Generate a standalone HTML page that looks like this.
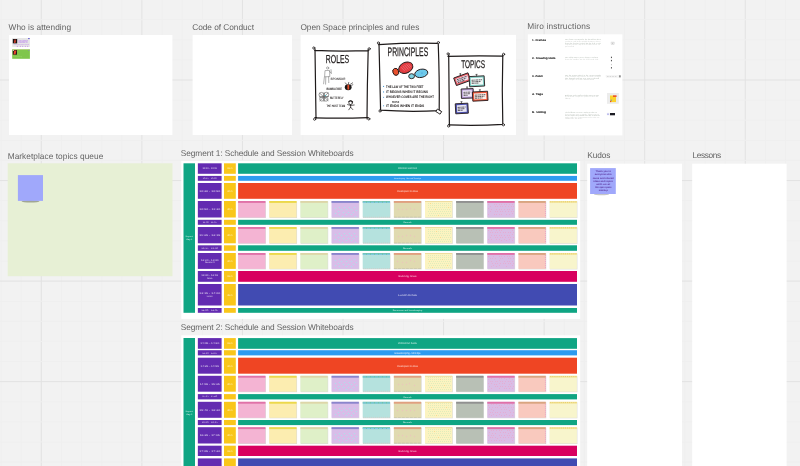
<!DOCTYPE html>
<html lang="en"><head><meta charset="utf-8"><title>Open Space board</title>
<style>html,body{margin:0;padding:0;background:#f2f2f2;overflow:hidden}body{width:800px;height:466px}svg{display:block;font-family:"Liberation Sans",sans-serif;text-rendering:geometricPrecision}</style>
</head><body>
<svg width="800" height="466" viewBox="0 0 800 466">
<defs><filter id="b1" x="-20%" y="-200%" width="140%" height="500%"><feGaussianBlur stdDeviation="0.7"/></filter></defs>
<rect x="0.00" y="0.00" width="800.00" height="466.00" fill="#f2f2f2"/>
<g id="grid">
<rect x="0.57" y="0" width="1" height="466" fill="#efefef"/>
<rect x="20.69" y="0" width="1" height="466" fill="#efefef"/>
<rect x="40.80" y="0" width="1" height="466" fill="#e2e2e2"/>
<rect x="60.91" y="0" width="1" height="466" fill="#efefef"/>
<rect x="81.03" y="0" width="1" height="466" fill="#efefef"/>
<rect x="101.14" y="0" width="1" height="466" fill="#efefef"/>
<rect x="121.26" y="0" width="1" height="466" fill="#efefef"/>
<rect x="141.37" y="0" width="1" height="466" fill="#e2e2e2"/>
<rect x="161.48" y="0" width="1" height="466" fill="#efefef"/>
<rect x="181.60" y="0" width="1" height="466" fill="#efefef"/>
<rect x="201.71" y="0" width="1" height="466" fill="#efefef"/>
<rect x="221.83" y="0" width="1" height="466" fill="#efefef"/>
<rect x="241.94" y="0" width="1" height="466" fill="#e2e2e2"/>
<rect x="262.05" y="0" width="1" height="466" fill="#efefef"/>
<rect x="282.17" y="0" width="1" height="466" fill="#efefef"/>
<rect x="302.28" y="0" width="1" height="466" fill="#efefef"/>
<rect x="322.40" y="0" width="1" height="466" fill="#efefef"/>
<rect x="342.51" y="0" width="1" height="466" fill="#e2e2e2"/>
<rect x="362.62" y="0" width="1" height="466" fill="#efefef"/>
<rect x="382.74" y="0" width="1" height="466" fill="#efefef"/>
<rect x="402.85" y="0" width="1" height="466" fill="#efefef"/>
<rect x="422.97" y="0" width="1" height="466" fill="#efefef"/>
<rect x="443.08" y="0" width="1" height="466" fill="#e2e2e2"/>
<rect x="463.19" y="0" width="1" height="466" fill="#efefef"/>
<rect x="483.31" y="0" width="1" height="466" fill="#efefef"/>
<rect x="503.42" y="0" width="1" height="466" fill="#efefef"/>
<rect x="523.54" y="0" width="1" height="466" fill="#efefef"/>
<rect x="543.65" y="0" width="1" height="466" fill="#e2e2e2"/>
<rect x="563.76" y="0" width="1" height="466" fill="#efefef"/>
<rect x="583.88" y="0" width="1" height="466" fill="#efefef"/>
<rect x="603.99" y="0" width="1" height="466" fill="#efefef"/>
<rect x="624.11" y="0" width="1" height="466" fill="#efefef"/>
<rect x="644.22" y="0" width="1" height="466" fill="#e2e2e2"/>
<rect x="664.33" y="0" width="1" height="466" fill="#efefef"/>
<rect x="684.45" y="0" width="1" height="466" fill="#efefef"/>
<rect x="704.56" y="0" width="1" height="466" fill="#efefef"/>
<rect x="724.68" y="0" width="1" height="466" fill="#efefef"/>
<rect x="744.79" y="0" width="1" height="466" fill="#e2e2e2"/>
<rect x="764.90" y="0" width="1" height="466" fill="#efefef"/>
<rect x="785.02" y="0" width="1" height="466" fill="#efefef"/>
<rect x="0" y="-0.94" width="800" height="1" fill="#efefef"/>
<rect x="0" y="19.17" width="800" height="1" fill="#efefef"/>
<rect x="0" y="39.28" width="800" height="1" fill="#efefef"/>
<rect x="0" y="59.39" width="800" height="1" fill="#efefef"/>
<rect x="0" y="79.50" width="800" height="1" fill="#e2e2e2"/>
<rect x="0" y="99.61" width="800" height="1" fill="#efefef"/>
<rect x="0" y="119.72" width="800" height="1" fill="#efefef"/>
<rect x="0" y="139.83" width="800" height="1" fill="#efefef"/>
<rect x="0" y="159.94" width="800" height="1" fill="#efefef"/>
<rect x="0" y="180.05" width="800" height="1" fill="#e2e2e2"/>
<rect x="0" y="200.16" width="800" height="1" fill="#efefef"/>
<rect x="0" y="220.27" width="800" height="1" fill="#efefef"/>
<rect x="0" y="240.38" width="800" height="1" fill="#efefef"/>
<rect x="0" y="260.49" width="800" height="1" fill="#efefef"/>
<rect x="0" y="280.60" width="800" height="1" fill="#e2e2e2"/>
<rect x="0" y="300.71" width="800" height="1" fill="#efefef"/>
<rect x="0" y="320.82" width="800" height="1" fill="#efefef"/>
<rect x="0" y="340.93" width="800" height="1" fill="#efefef"/>
<rect x="0" y="361.04" width="800" height="1" fill="#efefef"/>
<rect x="0" y="381.15" width="800" height="1" fill="#e2e2e2"/>
<rect x="0" y="401.26" width="800" height="1" fill="#efefef"/>
<rect x="0" y="421.37" width="800" height="1" fill="#efefef"/>
<rect x="0" y="441.48" width="800" height="1" fill="#efefef"/>
<rect x="0" y="461.59" width="800" height="1" fill="#efefef"/>
</g>
<g id="labels" fill="#646464" font-size="8.3">
<text x="8.50" y="29.80" textLength="62.50" lengthAdjust="spacing">Who is attending</text>
<text x="192.20" y="29.90" textLength="61.80" lengthAdjust="spacing">Code of Conduct</text>
<text x="300.40" y="29.70" textLength="118.90" lengthAdjust="spacing">Open Space principles and rules</text>
<text x="527.20" y="28.90" textLength="62.90" lengthAdjust="spacing">Miro instructions</text>
<text x="7.70" y="158.50" textLength="95.60" lengthAdjust="spacing">Marketplace topics queue</text>
<text x="180.80" y="155.60" textLength="172.90" lengthAdjust="spacing">Segment 1: Schedule and Session Whiteboards</text>
<text x="587.30" y="157.90" textLength="23.00" lengthAdjust="spacing">Kudos</text>
<text x="692.40" y="158.00" textLength="28.80" lengthAdjust="spacing">Lessons</text>
<text x="180.80" y="329.90" textLength="172.90" lengthAdjust="spacing">Segment 2: Schedule and Session Whiteboards</text>
</g>
<rect x="9.00" y="35.00" width="163.40" height="100.00" fill="#fff"/>
<rect x="192.60" y="35.00" width="99.40" height="100.00" fill="#fff"/>
<rect x="300.60" y="34.90" width="215.40" height="100.10" fill="#fff"/>
<rect x="527.80" y="34.30" width="94.60" height="101.10" fill="#fff"/>
<rect x="7.70" y="163.30" width="164.80" height="112.90" fill="#e7f0d5"/>
<rect x="181.30" y="160.90" width="398.90" height="158.00" fill="#fff"/>
<rect x="181.30" y="335.30" width="398.90" height="134.70" fill="#fff"/>
<rect x="587.20" y="163.70" width="94.80" height="306.30" fill="#fff"/>
<rect x="692.20" y="163.70" width="94.40" height="306.30" fill="#fff"/>
<rect x="12.20" y="38.00" width="17.70" height="8.90" fill="#e6e6e6"/>
<rect x="12.80" y="39.00" width="4.40" height="4.40" fill="#1c1416"/>
<path d="M14.6 39.6 L15.6 39.6 L15.8 42.6 L14.0 43.0 Z" fill="#e8452c"/>
<rect x="28.20" y="38.00" width="1.40" height="1.10" fill="#5b4fd0"/>
<g font-size="1.7" fill="#bd86ee" font-weight="bold">
<text x="18.6" y="40.5" textLength="9.2" lengthAdjust="spacingAndGlyphs">Anna Lindqvist</text>
<text x="18.6" y="41.9" textLength="8.6" lengthAdjust="spacingAndGlyphs">Agile coach in</text>
<text x="18.6" y="43.3" textLength="9.0" lengthAdjust="spacingAndGlyphs">Stockholm, SE</text>
<text x="13.8" y="44.9" textLength="15.2" lengthAdjust="spacingAndGlyphs" fill="#c79aea">Loves open space events</text>
</g>
<g fill="#c080e8"><rect x="16.8" y="45.9" width="1.2" height="0.7"/><rect x="19.8" y="45.9" width="1.2" height="0.7"/><rect x="22.0" y="45.9" width="1.2" height="0.7"/><rect x="24.8" y="45.9" width="1.2" height="0.7"/><rect x="27.0" y="45.9" width="1.2" height="0.7"/></g>
<rect x="12.20" y="49.10" width="17.70" height="9.70" fill="#7fc64c"/>
<rect x="12.20" y="49.10" width="17.70" height="0.60" fill="#cdd79a"/>
<rect x="12.80" y="50.00" width="4.20" height="4.70" fill="#2a1c1c"/>
<path d="M14.2 50.6 L16.4 50.4 L15.6 54.2 L13.6 54.4 Z" fill="#e8452c"/>
<rect x="12.80" y="50.00" width="1.00" height="1.00" fill="#f3efe6"/>
<rect x="28.20" y="49.90" width="1.00" height="0.90" fill="#8a86b8"/>
<text x="13.0" y="56.6" font-size="1.8" fill="#9ad86c">Jonas Berg</text>
<g id="sketch" fill="none" stroke="#1e1a1a" stroke-width="1.2" stroke-linecap="round" stroke-linejoin="round">
<path d="M315.0 49.2 L316.0 118.6 M314.6 50.4 Q340 51.6 368.6 50.6 M368.2 49.4 Q367.2 85 367.0 118.8 M314.8 117.8 Q340 118.6 368.2 117.6"/>
<circle cx="313.8" cy="48.0" r="1.1" stroke-width="0.8" fill="#fff"/>
<circle cx="369.2" cy="48.8" r="1.1" stroke-width="0.8" fill="#fff"/>
<circle cx="314.6" cy="119.2" r="1.1" stroke-width="0.8" fill="#fff"/>
<circle cx="368.8" cy="118.9" r="1.1" stroke-width="0.8" fill="#fff"/>
<path d="M379.0 43.6 L380.6 110.4 M378.6 44.6 Q410 42.6 438.0 43.4 M438.2 42.6 Q439.6 80 439.2 110.6 M380.0 110.2 Q410 112.2 439.6 110.6"/>
<circle cx="378.4" cy="43.0" r="1.1" stroke-width="0.8" fill="#fff"/>
<circle cx="438.4" cy="42.6" r="1.1" stroke-width="0.8" fill="#fff"/>
<circle cx="380.0" cy="111.0" r="1.1" stroke-width="0.8" fill="#fff"/>
<circle cx="439.8" cy="111.6" r="1.1" stroke-width="0.8" fill="#fff"/>
<rect x="436.6" y="110.2" width="4.6" height="3.0" transform="rotate(32 438.9 111.7)" fill="#fff" stroke-width="0.8"/>
<path d="M448.7 54.4 L449.4 125.6 M448.0 56.4 Q475 55.6 503.0 56.2 M502.8 54.6 Q501.8 90 502.8 124.6 M448.6 124.9 Q476 126.0 503.4 124.4"/>
<circle cx="448.1" cy="53.9" r="1.1" stroke-width="0.8" fill="#fff"/>
<circle cx="503.6" cy="54.3" r="1.1" stroke-width="0.8" fill="#fff"/>
<circle cx="448.6" cy="126.0" r="1.1" stroke-width="0.8" fill="#fff"/>
<circle cx="503.4" cy="124.8" r="1.1" stroke-width="0.8" fill="#fff"/>
</g>
<g fill="#1e1a1a" stroke="#1e1a1a" stroke-width="0.25">
<text x="325.8" y="63.0" font-size="11.6" textLength="23.4" lengthAdjust="spacingAndGlyphs">ROLES</text>
<text x="387.6" y="56.3" font-size="12.4" textLength="40.6" lengthAdjust="spacingAndGlyphs">PRINCIPLES</text>
<text x="461.2" y="67.6" font-size="11.2" textLength="23.8" lengthAdjust="spacingAndGlyphs">TOPICS</text>
</g>
<g font-size="3.4" fill="#262222" font-weight="bold">
<text x="330.5" y="79.5" textLength="14.8" lengthAdjust="spacingAndGlyphs" fill="#4a4646">SPONSOR</text>
<text x="326.4" y="89.5" textLength="15.9" lengthAdjust="spacingAndGlyphs">BUMBLEBEE</text>
<text x="329.9" y="98.7" textLength="13.6" lengthAdjust="spacingAndGlyphs">BUTTERFLY</text>
<text x="326.4" y="107.2" textLength="18.9" lengthAdjust="spacingAndGlyphs">THE HOST TEAM</text>
</g>
<g fill="none" stroke="#7c7c7c" stroke-width="0.6" stroke-linecap="round">
<circle cx="327.6" cy="68.0" r="1.1"/><path d="M325.4 70.6 L329.6 70.4 L329.8 76.6 L325.0 76.8 Z M324.4 77.0 L323.6 83.8 M325.8 77.0 L325.6 84.2 M328.6 76.8 L328.8 82.6 M329.6 71.4 L331.4 73.6 L331.0 69.6"/>
</g>
<ellipse cx="348.2" cy="87.2" rx="3.4" ry="3.0" fill="#1e1a1a"/>
<rect x="347.4" y="84.8" width="1.8" height="4.8" fill="#e8502c"/>
<path d="M346.6 84.4 L345.2 82.6 M348.4 84.0 L348.8 82.0 M350.2 84.4 L353.0 82.6 M351.2 85.4 L353.2 84.6" stroke="#1e1a1a" stroke-width="0.6" fill="none"/>
<g fill="none" stroke="#5a5a5a" stroke-width="0.6">
<circle cx="321.4" cy="94.8" r="2.4"/><circle cx="326.4" cy="94.6" r="2.3"/><circle cx="321.8" cy="99.0" r="2.1"/><circle cx="326.0" cy="99.2" r="2.0"/><path d="M324.0 92.2 L324.0 101.8 M319.4 93.0 L328.4 100.8 M328.4 92.6 L319.6 101.0 M319 97 L329 96.6"/>
</g>
<circle cx="325.6" cy="95.6" r="0.6" fill="#3ac0d0"/>
<g fill="none" stroke="#1e1a1a" stroke-width="0.7" stroke-linecap="round">
<circle cx="350.6" cy="102.8" r="1.8"/><path d="M348.8 101.6 Q350.6 99.8 352.6 101.8" stroke-width="1.1"/><path d="M350.6 104.6 L350.6 107.2 M350.6 105.4 L347.6 104.6 M350.6 105.4 L354.2 105.0 M350.6 107.2 L348.8 109.8 M350.6 107.2 L352.8 109.6"/>
</g>
<g stroke="#241a1a" stroke-width="0.9">
<g transform="rotate(-25 405.8 67.7)"><ellipse cx="405.8" cy="67.7" rx="7.4" ry="5.3" fill="#e23c40"/></g>
<g transform="rotate(-20 395.8 71.4)"><ellipse cx="395.6" cy="71.8" rx="2.9" ry="3.6" fill="#e8502c"/></g>
<g transform="rotate(-12 421 73.5)"><ellipse cx="421.3" cy="73.4" rx="6.6" ry="4.1" fill="#6ec9ea"/></g>
<ellipse cx="411.6" cy="76.2" rx="2.9" ry="2.5" fill="#7fd2e2"/>
</g>
<g transform="rotate(-25 405.8 67.7)" stroke="#f08a9a" stroke-width="0.5" fill="none"><path d="M401.8 65.4 l1.6 4.6 M403.8 64.8 l1.6 5.6 M405.8 64.6 l1.6 5.8 M407.8 64.8 l1.6 5.4 M409.8 65.6 l1.2 4.0"/></g>
<circle cx="422.0" cy="73.0" r="0.5" fill="#2a7fd0"/>
<g font-size="3.5" fill="#221e1e" font-weight="bold">
<text x="386.1" y="87.5" textLength="37.4" lengthAdjust="spacingAndGlyphs">THE LAW OF THE TWO FEET</text>
<text x="386.1" y="93.0" textLength="41.9" lengthAdjust="spacingAndGlyphs">IT BEGINS WHEN IT BEGINS</text>
<text x="386.1" y="98.3" textLength="47.9" lengthAdjust="spacingAndGlyphs">WHOEVER COMES ARE THE RIGHT</text>
<text x="386.1" y="106.8" textLength="38.2" lengthAdjust="spacingAndGlyphs">IT ENDS WHEN IT ENDS</text>
<text x="392.0" y="102.6" font-size="3.0" textLength="7.3" lengthAdjust="spacingAndGlyphs">PEOPLE</text>
</g>
<g fill="#3a8fd0">
<circle cx="383.6" cy="86.4" r="0.55"/>
<circle cx="383.6" cy="91.9" r="0.55"/>
<circle cx="383.6" cy="97.2" r="0.55"/>
<circle cx="383.6" cy="105.7" r="0.55"/>
</g>
<g transform="rotate(-20 462.2 79.2)">
<rect x="454.60" y="75.20" width="15.2" height="8.0" fill="#e65a62" stroke="#2a2022" stroke-width="0.9"/>
<rect x="456.10" y="76.80" width="12.20" height="4.80" fill="#f3e4f0"/>
<path d="M456.80 77.90 h10.60 M456.80 79.50 h9.60 M456.80 81.00 h7.70" stroke="#3a3036" stroke-width="0.75" stroke-dasharray="2.2 0.5 1.4 0.4"/>
<path d="M462.20 75.20 v-1.8 m-1 0 h2" stroke="#1e1a1a" stroke-width="0.6"/>
</g>
<g transform="rotate(-3 476.9 81.3)">
<rect x="469.40" y="76.20" width="15.0" height="10.2" fill="#7fcdc4" stroke="#2a2022" stroke-width="0.9"/>
<rect x="470.90" y="77.80" width="12.00" height="7.00" fill="#f4fbfa"/>
<path d="M471.60 80.00 h10.40 M471.60 81.60 h9.40 M471.60 83.10 h7.50" stroke="#3a3036" stroke-width="0.75" stroke-dasharray="2.2 0.5 1.4 0.4"/>
<path d="M476.90 76.20 v-1.8 m-1 0 h2" stroke="#1e1a1a" stroke-width="0.6"/>
</g>
<g transform="rotate(-2 467.3 93.5)">
<rect x="461.30" y="88.80" width="12.0" height="9.4" fill="#b59ad6" stroke="#2a2022" stroke-width="0.9"/>
<rect x="462.80" y="90.40" width="9.00" height="6.20" fill="#f3eefa"/>
<path d="M463.50 92.20 h7.40 M463.50 93.80 h6.40 M463.50 95.30 h4.50" stroke="#3a3036" stroke-width="0.75" stroke-dasharray="2.2 0.5 1.4 0.4"/>
<path d="M467.30 88.80 v-1.8 m-1 0 h2" stroke="#1e1a1a" stroke-width="0.6"/>
</g>
<g transform="rotate(-3 480.2 96.2)">
<rect x="472.60" y="91.60" width="15.2" height="9.2" fill="#f0583a" stroke="#2a2022" stroke-width="0.9"/>
<rect x="474.10" y="93.20" width="12.20" height="6.00" fill="#fbeee8"/>
<path d="M474.80 94.90 h10.60 M474.80 96.50 h9.60 M474.80 98.00 h7.70" stroke="#3a3036" stroke-width="0.75" stroke-dasharray="2.2 0.5 1.4 0.4"/>
<path d="M480.20 91.60 v-1.8 m-1 0 h2" stroke="#1e1a1a" stroke-width="0.6"/>
</g>
<g transform="rotate(-3 461.8 108.5)">
<rect x="455.50" y="103.50" width="12.6" height="10.0" fill="#4a50b0" stroke="#2a2022" stroke-width="0.9"/>
<rect x="457.00" y="105.10" width="9.60" height="6.80" fill="#e6e6f6"/>
<path d="M457.70 107.20 h8.00 M457.70 108.80 h7.00 M457.70 110.30 h5.10" stroke="#3a3036" stroke-width="0.75" stroke-dasharray="2.2 0.5 1.4 0.4"/>
<path d="M461.80 103.50 v-1.8 m-1 0 h2" stroke="#1e1a1a" stroke-width="0.6"/>
</g>
<text x="532" y="40.85" font-size="2.6" fill="#1c1c1c" stroke="#1c1c1c" stroke-width="0.12" textLength="14.0" lengthAdjust="spacingAndGlyphs">1. Frames</text>
<g font-size="1.6">
<text x="565" y="40.40" fill="#8f9a8f" textLength="36" lengthAdjust="spacingAndGlyphs">Use frames to organise the board into clear</text>
<text x="565" y="41.96" fill="#b9bdb9" textLength="35.5" lengthAdjust="spacingAndGlyphs">sections and jump quickly between them</text>
<text x="565" y="43.52" fill="#8f9a8f" textLength="36" lengthAdjust="spacingAndGlyphs">from the frames panel on the left. Each</text>
<text x="565" y="45.08" fill="#b9bdb9" textLength="35" lengthAdjust="spacingAndGlyphs">segment of the day has its own frame so</text>
<text x="565" y="46.64" fill="#b4b8b4" textLength="9" lengthAdjust="spacingAndGlyphs">you can find</text>
</g>
<text x="532" y="58.85" font-size="2.6" fill="#1c1c1c" stroke="#1c1c1c" stroke-width="0.12" textLength="23.4" lengthAdjust="spacingAndGlyphs">2. Drawing tools</text>
<g font-size="1.6">
<text x="565" y="57.90" fill="#8f9a8f" textLength="33" lengthAdjust="spacingAndGlyphs">Use sticky notes, pens, shapes and text</text>
<text x="565" y="59.70" fill="#b9bdb9" textLength="33.5" lengthAdjust="spacingAndGlyphs">from the toolbar on the left hand side</text>
</g>
<text x="532" y="77.10" font-size="2.6" fill="#1c1c1c" stroke="#1c1c1c" stroke-width="0.12" textLength="11.0" lengthAdjust="spacingAndGlyphs">3. Zoom</text>
<g font-size="1.6">
<text x="565" y="75.75" fill="#8f9a8f" textLength="36" lengthAdjust="spacingAndGlyphs">Use the mouse wheel or the zoom controls</text>
<text x="565" y="77.27" fill="#b9bdb9" textLength="35.5" lengthAdjust="spacingAndGlyphs">in the bottom right corner to move around</text>
<text x="565" y="78.79" fill="#8f9a8f" textLength="34" lengthAdjust="spacingAndGlyphs">the board and to see every detail</text>
<text x="565" y="80.31" fill="#b4b8b4" textLength="29" lengthAdjust="spacingAndGlyphs">of a single session whiteboard</text>
</g>
<text x="532" y="95.10" font-size="2.6" fill="#1c1c1c" stroke="#1c1c1c" stroke-width="0.12" textLength="11.0" lengthAdjust="spacingAndGlyphs">4. Tags</text>
<g font-size="1.6">
<text x="565" y="95.75" fill="#8f9a8f" textLength="34" lengthAdjust="spacingAndGlyphs">Add tags and emoji to sticky notes to vote</text>
<text x="565" y="97.35" fill="#b9bdb9" textLength="33.5" lengthAdjust="spacingAndGlyphs">or to mark a topic as yours so that we</text>
<text x="565" y="98.95" fill="#b4b8b4" textLength="5.5" lengthAdjust="spacingAndGlyphs">follow up</text>
</g>
<text x="532" y="112.95" font-size="2.6" fill="#1c1c1c" stroke="#1c1c1c" stroke-width="0.12" textLength="14.0" lengthAdjust="spacingAndGlyphs">5. Voting</text>
<g font-size="1.6">
<text x="565" y="113.00" fill="#8f9a8f" textLength="32" lengthAdjust="spacingAndGlyphs">The facilitator can start a voting session so</text>
<text x="565" y="114.50" fill="#b9bdb9" textLength="34" lengthAdjust="spacingAndGlyphs">that everyone gets a number of votes to put</text>
<text x="565" y="116.00" fill="#8f9a8f" textLength="35" lengthAdjust="spacingAndGlyphs">on the topics they would most like to discuss</text>
<text x="565" y="117.50" fill="#b9bdb9" textLength="34.5" lengthAdjust="spacingAndGlyphs">today. Votes are anonymous and results are</text>
<text x="565" y="119.00" fill="#b4b8b4" textLength="17" lengthAdjust="spacingAndGlyphs">shown after the timer</text>
</g>
<rect x="611.0" y="42.0" width="3.4" height="2.6" fill="#ededed" stroke="#c8c8c8" stroke-width="0.3"/>
<path d="M612.0 42.7 l1.4 1.2 m0 -1.2 l-1.4 1.2" stroke="#9a9a9a" stroke-width="0.3"/>
<rect x="610.95" y="56.70" width="0.9" height="1.4" fill="#3a3a3a"/>
<rect x="610.95" y="59.90" width="0.9" height="1.4" fill="#3a3a3a"/>
<rect x="610.95" y="63.90" width="0.9" height="1.4" fill="#c4c4c4"/>
<rect x="610.95" y="67.10" width="0.9" height="1.4" fill="#3a3a3a"/>
<rect x="606" y="75.6" width="13" height="1.8" fill="#f6f6f6" stroke="#e2e2e2" stroke-width="0.2"/>
<g fill="#c2c2c2"><rect x="607" y="76.2" width="1.6" height="0.6"/><rect x="609.6" y="76.2" width="1.6" height="0.6"/><rect x="612.2" y="76.2" width="1.6" height="0.6"/><rect x="614.8" y="76.2" width="1.6" height="0.6"/></g>
<rect x="619.5" y="75.3" width="0.9" height="2.1" fill="#222"/>
<rect x="607.00" y="93.00" width="11.80" height="10.80" fill="#ececec"/>
<rect x="610.00" y="95.50" width="6.00" height="6.60" fill="#fbd22c"/>
<rect x="613.00" y="95.40" width="3.60" height="1.50" fill="#ea4a2e"/>
<rect x="610.00" y="100.90" width="1.20" height="1.20" fill="#ea4a2e"/>
<circle cx="611.2" cy="100.2" r="0.6" fill="#4a7fe0"/>
<rect x="606.80" y="112.80" width="3.00" height="2.60" fill="#f0f0f6"/>
<circle cx="608.0" cy="114.1" r="0.6" fill="#5a5ae0"/>
<rect x="610.00" y="113.00" width="5.00" height="2.30" fill="#1c1c24"/>
<ellipse cx="30.5" cy="201.3" rx="9" ry="1.2" fill="#000" opacity="0.30" filter="url(#b1)"/>
<rect x="17.90" y="175.10" width="25.10" height="25.80" fill="#a0a8fb"/>
<ellipse cx="601.5" cy="194.2" rx="7.5" ry="1.0" fill="#000" opacity="0.22" filter="url(#b1)"/>
<rect x="590.10" y="168.10" width="25.70" height="25.90" fill="#a0a8fb"/>
<g font-size="2.5" fill="#5a349c" font-weight="bold" text-anchor="middle">
<text x="603.2" y="172.40" textLength="15.5" lengthAdjust="spacingAndGlyphs">Thank you to</text>
<text x="603.2" y="175.45" textLength="17" lengthAdjust="spacingAndGlyphs">everyone who</text>
<text x="603.2" y="178.50" textLength="21" lengthAdjust="spacingAndGlyphs">came and shared</text>
<text x="603.2" y="181.55" textLength="19.5" lengthAdjust="spacingAndGlyphs">ideas and topics</text>
<text x="603.2" y="184.60" textLength="14" lengthAdjust="spacingAndGlyphs">with us at</text>
<text x="603.2" y="187.65" textLength="16.5" lengthAdjust="spacingAndGlyphs">this open space</text>
<text x="603.2" y="190.70" textLength="9" lengthAdjust="spacingAndGlyphs">meetup</text>
</g>
<g id="seg1">
<rect x="183.50" y="163.30" width="11.50" height="149.50" fill="#0fa583"/>
<text x="189.25" y="237.45" font-size="2.0" fill="#fff" text-anchor="middle" fill-opacity="0.8" textLength="7.4" lengthAdjust="spacingAndGlyphs">Segment</text>
<text x="189.25" y="240.05" font-size="2.0" fill="#fff" text-anchor="middle" fill-opacity="0.8" textLength="6" lengthAdjust="spacingAndGlyphs">Day 1</text>
<rect x="197.85" y="163.30" width="23.75" height="10.50" fill="#632bb1"/>
<rect x="224.00" y="163.30" width="11.80" height="10.50" fill="#f9c61a"/>
<text x="209.70" y="169.45" font-size="2.5" fill="#fff" text-anchor="middle" fill-opacity="0.78" textLength="14.5" lengthAdjust="spacingAndGlyphs">10:00 - 10:15</text>
<text x="229.90" y="169.45" font-size="2.4" fill="#fff" text-anchor="middle" fill-opacity="0.78">15 m</text>
<rect x="238.10" y="163.30" width="338.90" height="10.50" fill="#0fa583"/>
<text x="407.50" y="169.49" font-size="2.6" fill="#fff" text-anchor="middle" fill-opacity="0.8" textLength="19" lengthAdjust="spacingAndGlyphs">Welcome and Intro</text>
<rect x="197.85" y="175.90" width="23.75" height="4.90" fill="#632bb1"/>
<rect x="224.00" y="175.90" width="11.80" height="4.90" fill="#f9c61a"/>
<text x="209.70" y="179.07" font-size="2.0" fill="#fff" text-anchor="middle" fill-opacity="0.78" textLength="14" lengthAdjust="spacingAndGlyphs">10:15 - 10:20</text>
<rect x="238.10" y="175.90" width="338.90" height="4.90" fill="#2d9bf0"/>
<text x="407.50" y="179.00" font-size="1.8" fill="#fff" text-anchor="middle" fill-opacity="0.8" textLength="27" lengthAdjust="spacingAndGlyphs">Housekeeping - Miro and Zoom tips</text>
<rect x="197.85" y="183.00" width="23.75" height="15.80" fill="#632bb1"/>
<rect x="224.00" y="183.00" width="11.80" height="15.80" fill="#f9c61a"/>
<text x="209.70" y="191.80" font-size="2.5" fill="#fff" text-anchor="middle" fill-opacity="0.78" textLength="21" lengthAdjust="spacingAndGlyphs">10:20 - 10:50</text>
<text x="229.90" y="191.80" font-size="2.4" fill="#fff" text-anchor="middle" fill-opacity="0.78">30 m</text>
<rect x="238.10" y="183.00" width="338.90" height="15.80" fill="#ef4523"/>
<text x="407.50" y="191.84" font-size="2.6" fill="#fff" text-anchor="middle" fill-opacity="0.8" textLength="21" lengthAdjust="spacingAndGlyphs">Marketplace of ideas</text>
<rect x="197.85" y="201.00" width="23.75" height="16.50" fill="#632bb1"/>
<rect x="224.00" y="201.00" width="11.80" height="16.50" fill="#f9c61a"/>
<text x="209.70" y="210.15" font-size="2.5" fill="#fff" text-anchor="middle" fill-opacity="0.78" textLength="21" lengthAdjust="spacingAndGlyphs">10:50 - 11:30</text>
<text x="229.90" y="210.15" font-size="2.4" fill="#fff" text-anchor="middle" fill-opacity="0.78">40 m</text>
<rect x="238.40" y="201.40" width="27.50" height="16.60" fill="#000" opacity="0.15"/>
<rect x="238.10" y="201.00" width="27.30" height="16.50" fill="#f4b4d3"/>
<rect x="238.10" y="201.00" width="27.30" height="1.90" fill="#e072a8"/>
<rect x="269.55" y="201.40" width="27.50" height="16.60" fill="#000" opacity="0.15"/>
<rect x="269.25" y="201.00" width="27.30" height="16.50" fill="#fcedb0"/>
<rect x="269.25" y="201.00" width="27.30" height="1.90" fill="#ecd84b"/>
<rect x="300.70" y="201.40" width="27.50" height="16.60" fill="#000" opacity="0.15"/>
<rect x="300.40" y="201.00" width="27.30" height="16.50" fill="#dff0c8"/>
<rect x="300.40" y="201.00" width="27.30" height="1.90" fill="#ddd6a8"/>
<rect x="331.85" y="201.40" width="27.50" height="16.60" fill="#000" opacity="0.15"/>
<rect x="331.55" y="201.00" width="27.30" height="16.50" fill="#d8bde8"/>
<rect x="331.55" y="201.00" width="27.30" height="1.90" fill="#8a85cc"/>
<g fill="#98f0ec" opacity="0.75">
<circle cx="335.50" cy="208.50" r="0.62"/>
<circle cx="339.50" cy="207.50" r="0.62"/>
<circle cx="344.50" cy="207.50" r="0.62"/>
<circle cx="349.50" cy="207.50" r="0.62"/>
<circle cx="354.50" cy="207.50" r="0.62"/>
<circle cx="341.50" cy="209.50" r="0.62"/>
<circle cx="346.50" cy="209.50" r="0.62"/>
<circle cx="351.50" cy="209.50" r="0.62"/>
<circle cx="356.50" cy="210.50" r="0.62"/>
<circle cx="338.50" cy="211.50" r="0.62"/>
<circle cx="343.50" cy="212.50" r="0.62"/>
<circle cx="348.50" cy="212.50" r="0.62"/>
<circle cx="353.50" cy="212.50" r="0.62"/>
<circle cx="335.50" cy="213.50" r="0.62"/>
<circle cx="339.50" cy="214.50" r="0.62"/>
<circle cx="346.50" cy="214.50" r="0.62"/>
<circle cx="351.50" cy="214.50" r="0.62"/>
<circle cx="342.50" cy="216.50" r="0.62"/>
<circle cx="355.50" cy="216.50" r="0.62"/>
</g>
<rect x="363.00" y="201.40" width="27.50" height="16.60" fill="#000" opacity="0.15"/>
<rect x="362.70" y="201.00" width="27.30" height="16.50" fill="#b5e2de"/>
<rect x="362.70" y="201.00" width="27.30" height="1.90" fill="#6fc3ac"/>
<path d="M363.00 202.25 H390.00" stroke="#82c9ec" stroke-width="1.1" stroke-dasharray="3 1"/>
<path d="M363.00 217.05 H390.00" stroke="#dfc0b6" stroke-width="0.8" stroke-dasharray="0.9 1.1" opacity="0.6"/>
<rect x="394.15" y="201.40" width="27.50" height="16.60" fill="#000" opacity="0.15"/>
<rect x="393.85" y="201.00" width="27.30" height="16.50" fill="#e0dab0"/>
<rect x="393.85" y="201.00" width="27.30" height="1.90" fill="#e0a080"/>
<path d="M393.85 217.10 H421.15" stroke="#a9aba0" stroke-width="0.8" stroke-dasharray="3 1" opacity="0.4"/>
<g fill="#f7b4c6" opacity="0.5">
<circle cx="398.50" cy="209.50" r="0.65"/>
<circle cx="402.50" cy="209.50" r="0.65"/>
<circle cx="406.50" cy="209.50" r="0.65"/>
<circle cx="410.50" cy="208.50" r="0.65"/>
<circle cx="414.50" cy="209.50" r="0.65"/>
</g>
<rect x="425.30" y="201.40" width="27.50" height="16.60" fill="#000" opacity="0.15"/>
<rect x="425.00" y="201.00" width="27.30" height="16.50" fill="#fcf3c0"/>
<rect x="425.00" y="201.00" width="27.30" height="1.00" fill="#eedc9e"/>
<g fill="#c2e6b6" opacity="0.55">
<circle cx="428.5" cy="203.5" r="0.58"/>
<circle cx="430.5" cy="203.5" r="0.6" fill="#f3c060"/>
<circle cx="432.5" cy="203.5" r="0.58"/>
<circle cx="434.5" cy="203.5" r="0.58"/>
<circle cx="436.5" cy="203.5" r="0.58"/>
<circle cx="438.5" cy="203.5" r="0.58"/>
<circle cx="440.5" cy="203.5" r="0.58"/>
<circle cx="442.5" cy="203.5" r="0.58"/>
<circle cx="444.5" cy="203.5" r="0.58"/>
<circle cx="446.5" cy="203.5" r="0.58"/>
<circle cx="448.5" cy="203.5" r="0.58"/>
<circle cx="450.5" cy="203.5" r="0.58"/>
<circle cx="428.5" cy="205.5" r="0.58"/>
<circle cx="430.5" cy="205.5" r="0.58"/>
<circle cx="432.5" cy="205.5" r="0.58"/>
<circle cx="434.5" cy="205.5" r="0.58"/>
<circle cx="436.5" cy="205.5" r="0.58"/>
<circle cx="438.5" cy="205.5" r="0.58"/>
<circle cx="440.5" cy="205.5" r="0.58"/>
<circle cx="442.5" cy="205.5" r="0.58"/>
<circle cx="444.5" cy="205.5" r="0.58"/>
<circle cx="446.5" cy="205.5" r="0.58"/>
<circle cx="448.5" cy="205.5" r="0.58"/>
<circle cx="450.5" cy="205.5" r="0.58"/>
<circle cx="428.5" cy="207.5" r="0.58"/>
<circle cx="430.5" cy="207.5" r="0.58"/>
<circle cx="432.5" cy="207.5" r="0.58"/>
<circle cx="434.5" cy="207.5" r="0.58"/>
<circle cx="436.5" cy="207.5" r="0.58"/>
<circle cx="438.5" cy="207.5" r="0.58"/>
<circle cx="440.5" cy="207.5" r="0.58"/>
<circle cx="442.5" cy="207.5" r="0.58"/>
<circle cx="444.5" cy="207.5" r="0.58"/>
<circle cx="446.5" cy="207.5" r="0.58"/>
<circle cx="448.5" cy="207.5" r="0.6" fill="#f3c060"/>
<circle cx="450.5" cy="207.5" r="0.58"/>
<circle cx="429.5" cy="209.5" r="0.58"/>
<circle cx="431.5" cy="209.5" r="0.58"/>
<circle cx="433.5" cy="209.5" r="0.58"/>
<circle cx="435.5" cy="209.5" r="0.6" fill="#f3c060"/>
<circle cx="437.5" cy="209.5" r="0.58"/>
<circle cx="439.5" cy="209.5" r="0.58"/>
<circle cx="441.5" cy="209.5" r="0.58"/>
<circle cx="443.5" cy="209.5" r="0.58"/>
<circle cx="445.5" cy="209.5" r="0.58"/>
<circle cx="447.5" cy="209.5" r="0.58"/>
<circle cx="449.5" cy="209.5" r="0.58"/>
<circle cx="428.5" cy="211.5" r="0.58"/>
<circle cx="430.5" cy="211.5" r="0.58"/>
<circle cx="432.5" cy="211.5" r="0.58"/>
<circle cx="434.5" cy="211.5" r="0.58"/>
<circle cx="436.5" cy="211.5" r="0.58"/>
<circle cx="438.5" cy="211.5" r="0.58"/>
<circle cx="440.5" cy="211.5" r="0.58"/>
<circle cx="442.5" cy="211.5" r="0.58"/>
<circle cx="444.5" cy="211.5" r="0.58"/>
<circle cx="446.5" cy="211.5" r="0.58"/>
<circle cx="448.5" cy="211.5" r="0.58"/>
<circle cx="450.5" cy="211.5" r="0.58"/>
<circle cx="429.5" cy="213.5" r="0.58"/>
<circle cx="431.5" cy="213.5" r="0.58"/>
<circle cx="433.5" cy="213.5" r="0.58"/>
<circle cx="435.5" cy="213.5" r="0.58"/>
<circle cx="437.5" cy="213.5" r="0.58"/>
<circle cx="439.5" cy="213.5" r="0.58"/>
<circle cx="441.5" cy="213.5" r="0.58"/>
<circle cx="443.5" cy="213.5" r="0.58"/>
<circle cx="445.5" cy="213.5" r="0.58"/>
<circle cx="447.5" cy="213.5" r="0.58"/>
<circle cx="449.5" cy="213.5" r="0.58"/>
<circle cx="428.5" cy="215.5" r="0.58"/>
<circle cx="430.5" cy="215.5" r="0.58"/>
<circle cx="432.5" cy="215.5" r="0.58"/>
<circle cx="434.5" cy="215.5" r="0.58"/>
<circle cx="436.5" cy="215.5" r="0.58"/>
<circle cx="438.5" cy="215.5" r="0.6" fill="#f3c060"/>
<circle cx="440.5" cy="215.5" r="0.58"/>
<circle cx="442.5" cy="215.5" r="0.58"/>
<circle cx="444.5" cy="215.5" r="0.58"/>
<circle cx="446.5" cy="215.5" r="0.58"/>
<circle cx="448.5" cy="215.5" r="0.58"/>
<circle cx="450.5" cy="215.5" r="0.58"/>
</g>
<rect x="456.45" y="201.40" width="27.50" height="16.60" fill="#000" opacity="0.15"/>
<rect x="456.15" y="201.00" width="27.30" height="16.50" fill="#b8c0b5"/>
<rect x="456.15" y="201.00" width="27.30" height="1.90" fill="#909090"/>
<rect x="487.60" y="201.40" width="27.50" height="16.60" fill="#000" opacity="0.15"/>
<rect x="487.30" y="201.00" width="27.30" height="16.50" fill="#d9bde5"/>
<rect x="487.30" y="201.00" width="27.30" height="1.90" fill="#e070a8"/>
<g fill="#f29cc0" opacity="0.55">
<circle cx="488.5" cy="204.5" r="0.58"/>
<circle cx="494.5" cy="204.5" r="0.58"/>
<circle cx="496.5" cy="204.5" r="0.58"/>
<circle cx="499.5" cy="204.5" r="0.58"/>
<circle cx="501.5" cy="204.5" r="0.58"/>
<circle cx="504.5" cy="204.5" r="0.58"/>
<circle cx="506.5" cy="204.5" r="0.58"/>
<circle cx="509.5" cy="204.5" r="0.58"/>
<circle cx="512.5" cy="204.5" r="0.58"/>
<circle cx="490.5" cy="206.5" r="0.58"/>
<circle cx="495.5" cy="206.5" r="0.58"/>
<circle cx="497.5" cy="206.5" r="0.58"/>
<circle cx="500.5" cy="206.5" r="0.58"/>
<circle cx="502.5" cy="206.5" r="0.58"/>
<circle cx="505.5" cy="206.5" r="0.58"/>
<circle cx="508.5" cy="206.5" r="0.58"/>
<circle cx="511.5" cy="206.5" r="0.58"/>
<circle cx="513.5" cy="206.5" r="0.58"/>
<circle cx="488.5" cy="208.5" r="0.58"/>
<circle cx="491.5" cy="209.5" r="0.58"/>
<circle cx="496.5" cy="209.5" r="0.58"/>
<circle cx="499.5" cy="209.5" r="0.58"/>
<circle cx="501.5" cy="209.5" r="0.58"/>
<circle cx="504.5" cy="209.5" r="0.58"/>
<circle cx="507.5" cy="209.5" r="0.58"/>
<circle cx="509.5" cy="209.5" r="0.58"/>
<circle cx="512.5" cy="209.5" r="0.58"/>
<circle cx="490.5" cy="211.5" r="0.58"/>
<circle cx="495.5" cy="211.5" r="0.58"/>
<circle cx="497.5" cy="211.5" r="0.58"/>
<circle cx="500.5" cy="211.5" r="0.58"/>
<circle cx="502.5" cy="211.5" r="0.58"/>
<circle cx="505.5" cy="211.5" r="0.58"/>
<circle cx="508.5" cy="211.5" r="0.58"/>
<circle cx="511.5" cy="211.5" r="0.58"/>
<circle cx="513.5" cy="211.5" r="0.58"/>
<circle cx="488.5" cy="214.5" r="0.58"/>
<circle cx="494.5" cy="214.5" r="0.58"/>
<circle cx="496.5" cy="214.5" r="0.58"/>
<circle cx="499.5" cy="214.5" r="0.58"/>
<circle cx="501.5" cy="214.5" r="0.58"/>
<circle cx="506.5" cy="214.5" r="0.58"/>
<circle cx="509.5" cy="214.5" r="0.58"/>
<circle cx="512.5" cy="213.5" r="0.58"/>
</g>
<rect x="518.75" y="201.40" width="27.50" height="16.60" fill="#000" opacity="0.15"/>
<rect x="518.45" y="201.00" width="27.30" height="16.50" fill="#f9c9be"/>
<rect x="518.45" y="201.00" width="27.30" height="1.90" fill="#d9a580"/>
<path d="M545.45 203.00 V217.50" stroke="#e58cc4" stroke-width="0.6" stroke-dasharray="1 1"/>
<rect x="549.90" y="201.40" width="27.50" height="16.60" fill="#000" opacity="0.15"/>
<rect x="549.60" y="201.00" width="27.30" height="16.50" fill="#f8f5cc"/>
<rect x="549.60" y="201.00" width="27.30" height="1.90" fill="#f3e7a0"/>
<path d="M550.20 201.80 H576.90" stroke="#e6c458" stroke-width="0.8" stroke-dasharray="1.1 1"/>
<rect x="197.85" y="219.80" width="23.75" height="5.00" fill="#632bb1"/>
<rect x="224.00" y="219.80" width="11.80" height="5.00" fill="#f9c61a"/>
<text x="209.70" y="223.02" font-size="2.0" fill="#fff" text-anchor="middle" fill-opacity="0.78" textLength="14" lengthAdjust="spacingAndGlyphs">11:30 - 11:35</text>
<rect x="238.10" y="219.80" width="338.90" height="5.00" fill="#0fa583"/>
<text x="407.50" y="223.06" font-size="2.1" fill="#fff" text-anchor="middle" fill-opacity="0.8" textLength="8" lengthAdjust="spacingAndGlyphs">Break</text>
<rect x="197.85" y="227.00" width="23.75" height="16.30" fill="#632bb1"/>
<rect x="224.00" y="227.00" width="11.80" height="16.30" fill="#f9c61a"/>
<text x="209.70" y="236.05" font-size="2.5" fill="#fff" text-anchor="middle" fill-opacity="0.78" textLength="21" lengthAdjust="spacingAndGlyphs">11:35 - 12:15</text>
<text x="229.90" y="236.05" font-size="2.4" fill="#fff" text-anchor="middle" fill-opacity="0.78">40 m</text>
<rect x="238.40" y="227.40" width="27.50" height="16.40" fill="#000" opacity="0.15"/>
<rect x="238.10" y="227.00" width="27.30" height="16.30" fill="#f4b4d3"/>
<rect x="238.10" y="227.00" width="27.30" height="1.90" fill="#e072a8"/>
<rect x="269.55" y="227.40" width="27.50" height="16.40" fill="#000" opacity="0.15"/>
<rect x="269.25" y="227.00" width="27.30" height="16.30" fill="#fcedb0"/>
<rect x="269.25" y="227.00" width="27.30" height="1.90" fill="#ecd84b"/>
<rect x="300.70" y="227.40" width="27.50" height="16.40" fill="#000" opacity="0.15"/>
<rect x="300.40" y="227.00" width="27.30" height="16.30" fill="#dff0c8"/>
<rect x="300.40" y="227.00" width="27.30" height="1.90" fill="#ddd6a8"/>
<rect x="331.85" y="227.40" width="27.50" height="16.40" fill="#000" opacity="0.15"/>
<rect x="331.55" y="227.00" width="27.30" height="16.30" fill="#d8bde8"/>
<rect x="331.55" y="227.00" width="27.30" height="1.90" fill="#8a85cc"/>
<g fill="#98f0ec" opacity="0.75">
<circle cx="335.50" cy="234.50" r="0.62"/>
<circle cx="339.50" cy="233.50" r="0.62"/>
<circle cx="344.50" cy="233.50" r="0.62"/>
<circle cx="349.50" cy="233.50" r="0.62"/>
<circle cx="354.50" cy="233.50" r="0.62"/>
<circle cx="341.50" cy="235.50" r="0.62"/>
<circle cx="346.50" cy="235.50" r="0.62"/>
<circle cx="351.50" cy="235.50" r="0.62"/>
<circle cx="356.50" cy="236.50" r="0.62"/>
<circle cx="338.50" cy="237.50" r="0.62"/>
<circle cx="343.50" cy="238.50" r="0.62"/>
<circle cx="348.50" cy="238.50" r="0.62"/>
<circle cx="353.50" cy="238.50" r="0.62"/>
<circle cx="335.50" cy="239.50" r="0.62"/>
<circle cx="339.50" cy="240.50" r="0.62"/>
<circle cx="346.50" cy="240.50" r="0.62"/>
<circle cx="351.50" cy="240.50" r="0.62"/>
<circle cx="342.50" cy="242.50" r="0.62"/>
<circle cx="355.50" cy="242.50" r="0.62"/>
</g>
<rect x="363.00" y="227.40" width="27.50" height="16.40" fill="#000" opacity="0.15"/>
<rect x="362.70" y="227.00" width="27.30" height="16.30" fill="#b5e2de"/>
<rect x="362.70" y="227.00" width="27.30" height="1.90" fill="#6fc3ac"/>
<path d="M363.00 228.25 H390.00" stroke="#82c9ec" stroke-width="1.1" stroke-dasharray="3 1"/>
<path d="M363.00 242.85 H390.00" stroke="#dfc0b6" stroke-width="0.8" stroke-dasharray="0.9 1.1" opacity="0.6"/>
<rect x="394.15" y="227.40" width="27.50" height="16.40" fill="#000" opacity="0.15"/>
<rect x="393.85" y="227.00" width="27.30" height="16.30" fill="#e0dab0"/>
<rect x="393.85" y="227.00" width="27.30" height="1.90" fill="#e0a080"/>
<path d="M393.85 242.90 H421.15" stroke="#a9aba0" stroke-width="0.8" stroke-dasharray="3 1" opacity="0.4"/>
<g fill="#f7b4c6" opacity="0.5">
<circle cx="398.50" cy="236.50" r="0.65"/>
<circle cx="402.50" cy="236.50" r="0.65"/>
<circle cx="406.50" cy="235.50" r="0.65"/>
<circle cx="410.50" cy="235.50" r="0.65"/>
<circle cx="414.50" cy="236.50" r="0.65"/>
</g>
<rect x="425.30" y="227.40" width="27.50" height="16.40" fill="#000" opacity="0.15"/>
<rect x="425.00" y="227.00" width="27.30" height="16.30" fill="#fcf3c0"/>
<rect x="425.00" y="227.00" width="27.30" height="1.00" fill="#eedc9e"/>
<g fill="#c2e6b6" opacity="0.55">
<circle cx="428.5" cy="229.5" r="0.58"/>
<circle cx="430.5" cy="229.5" r="0.58"/>
<circle cx="432.5" cy="229.5" r="0.58"/>
<circle cx="434.5" cy="229.5" r="0.58"/>
<circle cx="436.5" cy="229.5" r="0.58"/>
<circle cx="438.5" cy="229.5" r="0.58"/>
<circle cx="440.5" cy="229.5" r="0.58"/>
<circle cx="442.5" cy="229.5" r="0.58"/>
<circle cx="444.5" cy="229.5" r="0.58"/>
<circle cx="446.5" cy="229.5" r="0.58"/>
<circle cx="448.5" cy="229.5" r="0.58"/>
<circle cx="450.5" cy="229.5" r="0.6" fill="#f3c060"/>
<circle cx="428.5" cy="231.5" r="0.58"/>
<circle cx="430.5" cy="231.5" r="0.58"/>
<circle cx="432.5" cy="231.5" r="0.58"/>
<circle cx="434.5" cy="231.5" r="0.58"/>
<circle cx="436.5" cy="231.5" r="0.6" fill="#f3c060"/>
<circle cx="438.5" cy="231.5" r="0.58"/>
<circle cx="440.5" cy="231.5" r="0.58"/>
<circle cx="442.5" cy="231.5" r="0.58"/>
<circle cx="444.5" cy="231.5" r="0.58"/>
<circle cx="446.5" cy="231.5" r="0.58"/>
<circle cx="448.5" cy="231.5" r="0.58"/>
<circle cx="450.5" cy="231.5" r="0.58"/>
<circle cx="428.5" cy="233.5" r="0.58"/>
<circle cx="430.5" cy="233.5" r="0.58"/>
<circle cx="432.5" cy="233.5" r="0.58"/>
<circle cx="434.5" cy="233.5" r="0.58"/>
<circle cx="436.5" cy="233.5" r="0.58"/>
<circle cx="438.5" cy="233.5" r="0.58"/>
<circle cx="440.5" cy="233.5" r="0.58"/>
<circle cx="442.5" cy="233.5" r="0.58"/>
<circle cx="444.5" cy="233.5" r="0.58"/>
<circle cx="446.5" cy="233.5" r="0.58"/>
<circle cx="448.5" cy="233.5" r="0.58"/>
<circle cx="450.5" cy="233.5" r="0.58"/>
<circle cx="429.5" cy="235.5" r="0.58"/>
<circle cx="431.5" cy="235.5" r="0.58"/>
<circle cx="433.5" cy="235.5" r="0.58"/>
<circle cx="435.5" cy="235.5" r="0.58"/>
<circle cx="437.5" cy="235.5" r="0.58"/>
<circle cx="439.5" cy="235.5" r="0.58"/>
<circle cx="441.5" cy="235.5" r="0.58"/>
<circle cx="443.5" cy="235.5" r="0.58"/>
<circle cx="445.5" cy="235.5" r="0.58"/>
<circle cx="447.5" cy="235.5" r="0.58"/>
<circle cx="449.5" cy="235.5" r="0.58"/>
<circle cx="428.5" cy="237.5" r="0.58"/>
<circle cx="430.5" cy="237.5" r="0.58"/>
<circle cx="432.5" cy="237.5" r="0.58"/>
<circle cx="434.5" cy="237.5" r="0.58"/>
<circle cx="436.5" cy="237.5" r="0.58"/>
<circle cx="438.5" cy="237.5" r="0.58"/>
<circle cx="440.5" cy="237.5" r="0.6" fill="#f3c060"/>
<circle cx="442.5" cy="237.5" r="0.58"/>
<circle cx="444.5" cy="237.5" r="0.58"/>
<circle cx="446.5" cy="237.5" r="0.58"/>
<circle cx="448.5" cy="237.5" r="0.58"/>
<circle cx="450.5" cy="237.5" r="0.58"/>
<circle cx="429.5" cy="239.5" r="0.58"/>
<circle cx="431.5" cy="239.5" r="0.58"/>
<circle cx="433.5" cy="239.5" r="0.58"/>
<circle cx="435.5" cy="239.5" r="0.58"/>
<circle cx="437.5" cy="239.5" r="0.58"/>
<circle cx="439.5" cy="239.5" r="0.58"/>
<circle cx="441.5" cy="239.5" r="0.58"/>
<circle cx="443.5" cy="239.5" r="0.58"/>
<circle cx="445.5" cy="239.5" r="0.58"/>
<circle cx="447.5" cy="239.5" r="0.58"/>
<circle cx="449.5" cy="239.5" r="0.58"/>
<circle cx="428.5" cy="241.5" r="0.58"/>
<circle cx="430.5" cy="241.5" r="0.58"/>
<circle cx="432.5" cy="241.5" r="0.58"/>
<circle cx="434.5" cy="241.5" r="0.58"/>
<circle cx="436.5" cy="241.5" r="0.58"/>
<circle cx="438.5" cy="241.5" r="0.58"/>
<circle cx="440.5" cy="241.5" r="0.58"/>
<circle cx="442.5" cy="241.5" r="0.58"/>
<circle cx="444.5" cy="241.5" r="0.58"/>
<circle cx="446.5" cy="241.5" r="0.58"/>
<circle cx="448.5" cy="241.5" r="0.58"/>
<circle cx="450.5" cy="241.5" r="0.58"/>
</g>
<rect x="456.45" y="227.40" width="27.50" height="16.40" fill="#000" opacity="0.15"/>
<rect x="456.15" y="227.00" width="27.30" height="16.30" fill="#b8c0b5"/>
<rect x="456.15" y="227.00" width="27.30" height="1.90" fill="#909090"/>
<rect x="487.60" y="227.40" width="27.50" height="16.40" fill="#000" opacity="0.15"/>
<rect x="487.30" y="227.00" width="27.30" height="16.30" fill="#d9bde5"/>
<rect x="487.30" y="227.00" width="27.30" height="1.90" fill="#e070a8"/>
<g fill="#f29cc0" opacity="0.55">
<circle cx="488.5" cy="230.5" r="0.58"/>
<circle cx="491.5" cy="230.5" r="0.58"/>
<circle cx="493.5" cy="229.5" r="0.58"/>
<circle cx="496.5" cy="230.5" r="0.58"/>
<circle cx="499.5" cy="230.5" r="0.58"/>
<circle cx="501.5" cy="230.5" r="0.58"/>
<circle cx="512.5" cy="230.5" r="0.58"/>
<circle cx="490.5" cy="232.5" r="0.58"/>
<circle cx="492.5" cy="232.5" r="0.58"/>
<circle cx="495.5" cy="232.5" r="0.58"/>
<circle cx="497.5" cy="232.5" r="0.58"/>
<circle cx="500.5" cy="232.5" r="0.58"/>
<circle cx="503.5" cy="232.5" r="0.58"/>
<circle cx="505.5" cy="232.5" r="0.58"/>
<circle cx="508.5" cy="232.5" r="0.58"/>
<circle cx="510.5" cy="232.5" r="0.58"/>
<circle cx="513.5" cy="232.5" r="0.58"/>
<circle cx="491.5" cy="235.5" r="0.58"/>
<circle cx="494.5" cy="235.5" r="0.58"/>
<circle cx="496.5" cy="235.5" r="0.58"/>
<circle cx="499.5" cy="235.5" r="0.58"/>
<circle cx="501.5" cy="235.5" r="0.58"/>
<circle cx="504.5" cy="235.5" r="0.58"/>
<circle cx="507.5" cy="235.5" r="0.58"/>
<circle cx="509.5" cy="235.5" r="0.58"/>
<circle cx="512.5" cy="234.5" r="0.58"/>
<circle cx="490.5" cy="237.5" r="0.58"/>
<circle cx="495.5" cy="237.5" r="0.58"/>
<circle cx="497.5" cy="237.5" r="0.58"/>
<circle cx="500.5" cy="237.5" r="0.58"/>
<circle cx="502.5" cy="237.5" r="0.58"/>
<circle cx="505.5" cy="237.5" r="0.58"/>
<circle cx="508.5" cy="237.5" r="0.58"/>
<circle cx="510.5" cy="237.5" r="0.58"/>
<circle cx="513.5" cy="237.5" r="0.58"/>
<circle cx="488.5" cy="239.5" r="0.58"/>
<circle cx="491.5" cy="239.5" r="0.58"/>
<circle cx="496.5" cy="239.5" r="0.58"/>
<circle cx="499.5" cy="239.5" r="0.58"/>
<circle cx="501.5" cy="240.5" r="0.58"/>
<circle cx="504.5" cy="239.5" r="0.58"/>
<circle cx="506.5" cy="240.5" r="0.58"/>
<circle cx="509.5" cy="239.5" r="0.58"/>
<circle cx="512.5" cy="240.5" r="0.58"/>
</g>
<rect x="518.75" y="227.40" width="27.50" height="16.40" fill="#000" opacity="0.15"/>
<rect x="518.45" y="227.00" width="27.30" height="16.30" fill="#f9c9be"/>
<rect x="518.45" y="227.00" width="27.30" height="1.90" fill="#d9a580"/>
<path d="M545.45 229.00 V243.30" stroke="#e58cc4" stroke-width="0.6" stroke-dasharray="1 1"/>
<rect x="549.90" y="227.40" width="27.50" height="16.40" fill="#000" opacity="0.15"/>
<rect x="549.60" y="227.00" width="27.30" height="16.30" fill="#f8f5cc"/>
<rect x="549.60" y="227.00" width="27.30" height="1.90" fill="#f3e7a0"/>
<path d="M550.20 227.80 H576.90" stroke="#e6c458" stroke-width="0.8" stroke-dasharray="1.1 1"/>
<rect x="197.85" y="245.30" width="23.75" height="5.50" fill="#632bb1"/>
<rect x="224.00" y="245.30" width="11.80" height="5.50" fill="#f9c61a"/>
<text x="209.70" y="248.77" font-size="2.0" fill="#fff" text-anchor="middle" fill-opacity="0.78" textLength="17" lengthAdjust="spacingAndGlyphs">12:15 - 12:20</text>
<rect x="238.10" y="245.30" width="338.90" height="5.50" fill="#0fa583"/>
<text x="407.50" y="248.81" font-size="2.1" fill="#fff" text-anchor="middle" fill-opacity="0.8" textLength="9" lengthAdjust="spacingAndGlyphs">Break</text>
<rect x="197.85" y="253.00" width="23.75" height="15.90" fill="#632bb1"/>
<rect x="224.00" y="253.00" width="11.80" height="15.90" fill="#f9c61a"/>
<text x="209.70" y="260.65" font-size="2.5" fill="#fff" text-anchor="middle" fill-opacity="0.78" textLength="17.5" lengthAdjust="spacingAndGlyphs">12:20 - 13:00</text>
<text x="209.70" y="263.15" font-size="2.2" fill="#fff" text-anchor="middle" fill-opacity="0.78">Session 3</text>
<text x="229.90" y="261.85" font-size="2.4" fill="#fff" text-anchor="middle" fill-opacity="0.78">40 m</text>
<rect x="238.40" y="253.40" width="27.50" height="16.00" fill="#000" opacity="0.15"/>
<rect x="238.10" y="253.00" width="27.30" height="15.90" fill="#f4b4d3"/>
<rect x="238.10" y="253.00" width="27.30" height="1.90" fill="#e072a8"/>
<rect x="269.55" y="253.40" width="27.50" height="16.00" fill="#000" opacity="0.15"/>
<rect x="269.25" y="253.00" width="27.30" height="15.90" fill="#fcedb0"/>
<rect x="269.25" y="253.00" width="27.30" height="1.90" fill="#ecd84b"/>
<rect x="300.70" y="253.40" width="27.50" height="16.00" fill="#000" opacity="0.15"/>
<rect x="300.40" y="253.00" width="27.30" height="15.90" fill="#dff0c8"/>
<rect x="300.40" y="253.00" width="27.30" height="1.90" fill="#ddd6a8"/>
<rect x="331.85" y="253.40" width="27.50" height="16.00" fill="#000" opacity="0.15"/>
<rect x="331.55" y="253.00" width="27.30" height="15.90" fill="#d8bde8"/>
<rect x="331.55" y="253.00" width="27.30" height="1.90" fill="#8a85cc"/>
<g fill="#98f0ec" opacity="0.75">
<circle cx="335.50" cy="260.50" r="0.62"/>
<circle cx="339.50" cy="259.50" r="0.62"/>
<circle cx="344.50" cy="259.50" r="0.62"/>
<circle cx="349.50" cy="259.50" r="0.62"/>
<circle cx="354.50" cy="259.50" r="0.62"/>
<circle cx="341.50" cy="261.50" r="0.62"/>
<circle cx="346.50" cy="261.50" r="0.62"/>
<circle cx="351.50" cy="261.50" r="0.62"/>
<circle cx="356.50" cy="262.50" r="0.62"/>
<circle cx="338.50" cy="263.50" r="0.62"/>
<circle cx="343.50" cy="264.50" r="0.62"/>
<circle cx="348.50" cy="264.50" r="0.62"/>
<circle cx="353.50" cy="264.50" r="0.62"/>
<circle cx="335.50" cy="265.50" r="0.62"/>
<circle cx="339.50" cy="266.50" r="0.62"/>
<circle cx="346.50" cy="266.50" r="0.62"/>
<circle cx="351.50" cy="266.50" r="0.62"/>
</g>
<rect x="363.00" y="253.40" width="27.50" height="16.00" fill="#000" opacity="0.15"/>
<rect x="362.70" y="253.00" width="27.30" height="15.90" fill="#b5e2de"/>
<rect x="362.70" y="253.00" width="27.30" height="1.90" fill="#6fc3ac"/>
<path d="M363.00 254.25 H390.00" stroke="#82c9ec" stroke-width="1.1" stroke-dasharray="3 1"/>
<path d="M363.00 268.45 H390.00" stroke="#dfc0b6" stroke-width="0.8" stroke-dasharray="0.9 1.1" opacity="0.6"/>
<rect x="394.15" y="253.40" width="27.50" height="16.00" fill="#000" opacity="0.15"/>
<rect x="393.85" y="253.00" width="27.30" height="15.90" fill="#e0dab0"/>
<rect x="393.85" y="253.00" width="27.30" height="1.90" fill="#e0a080"/>
<path d="M393.85 268.50 H421.15" stroke="#a9aba0" stroke-width="0.8" stroke-dasharray="3 1" opacity="0.4"/>
<g fill="#f7b4c6" opacity="0.5">
<circle cx="397.50" cy="261.50" r="0.65"/>
<circle cx="402.50" cy="262.50" r="0.65"/>
<circle cx="406.50" cy="262.50" r="0.65"/>
<circle cx="410.50" cy="260.50" r="0.65"/>
<circle cx="414.50" cy="261.50" r="0.65"/>
</g>
<rect x="425.30" y="253.40" width="27.50" height="16.00" fill="#000" opacity="0.15"/>
<rect x="425.00" y="253.00" width="27.30" height="15.90" fill="#fcf3c0"/>
<rect x="425.00" y="253.00" width="27.30" height="1.00" fill="#eedc9e"/>
<g fill="#c2e6b6" opacity="0.55">
<circle cx="428.5" cy="255.5" r="0.58"/>
<circle cx="430.5" cy="255.5" r="0.58"/>
<circle cx="432.5" cy="255.5" r="0.58"/>
<circle cx="434.5" cy="255.5" r="0.58"/>
<circle cx="436.5" cy="255.5" r="0.58"/>
<circle cx="438.5" cy="255.5" r="0.58"/>
<circle cx="440.5" cy="255.5" r="0.58"/>
<circle cx="442.5" cy="255.5" r="0.58"/>
<circle cx="444.5" cy="255.5" r="0.58"/>
<circle cx="446.5" cy="255.5" r="0.58"/>
<circle cx="448.5" cy="255.5" r="0.58"/>
<circle cx="450.5" cy="255.5" r="0.58"/>
<circle cx="428.5" cy="257.5" r="0.58"/>
<circle cx="430.5" cy="257.5" r="0.58"/>
<circle cx="432.5" cy="257.5" r="0.58"/>
<circle cx="434.5" cy="257.5" r="0.58"/>
<circle cx="436.5" cy="257.5" r="0.58"/>
<circle cx="438.5" cy="257.5" r="0.58"/>
<circle cx="440.5" cy="257.5" r="0.58"/>
<circle cx="442.5" cy="257.5" r="0.58"/>
<circle cx="444.5" cy="257.5" r="0.58"/>
<circle cx="446.5" cy="257.5" r="0.58"/>
<circle cx="448.5" cy="257.5" r="0.58"/>
<circle cx="450.5" cy="257.5" r="0.58"/>
<circle cx="428.5" cy="259.5" r="0.58"/>
<circle cx="430.5" cy="259.5" r="0.58"/>
<circle cx="432.5" cy="259.5" r="0.58"/>
<circle cx="434.5" cy="259.5" r="0.58"/>
<circle cx="436.5" cy="259.5" r="0.58"/>
<circle cx="438.5" cy="259.5" r="0.58"/>
<circle cx="440.5" cy="259.5" r="0.58"/>
<circle cx="442.5" cy="259.5" r="0.6" fill="#f3c060"/>
<circle cx="444.5" cy="259.5" r="0.58"/>
<circle cx="446.5" cy="259.5" r="0.58"/>
<circle cx="448.5" cy="259.5" r="0.58"/>
<circle cx="450.5" cy="259.5" r="0.58"/>
<circle cx="429.5" cy="261.5" r="0.6" fill="#f3c060"/>
<circle cx="431.5" cy="261.5" r="0.58"/>
<circle cx="433.5" cy="261.5" r="0.58"/>
<circle cx="435.5" cy="261.5" r="0.58"/>
<circle cx="437.5" cy="261.5" r="0.58"/>
<circle cx="439.5" cy="261.5" r="0.58"/>
<circle cx="441.5" cy="261.5" r="0.58"/>
<circle cx="443.5" cy="261.5" r="0.58"/>
<circle cx="445.5" cy="261.5" r="0.58"/>
<circle cx="447.5" cy="261.5" r="0.58"/>
<circle cx="449.5" cy="261.5" r="0.58"/>
<circle cx="428.5" cy="263.5" r="0.58"/>
<circle cx="430.5" cy="263.5" r="0.58"/>
<circle cx="432.5" cy="263.5" r="0.58"/>
<circle cx="434.5" cy="263.5" r="0.58"/>
<circle cx="436.5" cy="263.5" r="0.58"/>
<circle cx="438.5" cy="263.5" r="0.58"/>
<circle cx="440.5" cy="263.5" r="0.58"/>
<circle cx="442.5" cy="263.5" r="0.58"/>
<circle cx="444.5" cy="263.5" r="0.58"/>
<circle cx="446.5" cy="263.5" r="0.58"/>
<circle cx="448.5" cy="263.5" r="0.58"/>
<circle cx="450.5" cy="263.5" r="0.58"/>
<circle cx="429.5" cy="265.5" r="0.58"/>
<circle cx="431.5" cy="265.5" r="0.58"/>
<circle cx="433.5" cy="265.5" r="0.58"/>
<circle cx="435.5" cy="265.5" r="0.58"/>
<circle cx="437.5" cy="265.5" r="0.58"/>
<circle cx="439.5" cy="265.5" r="0.58"/>
<circle cx="441.5" cy="265.5" r="0.58"/>
<circle cx="443.5" cy="265.5" r="0.58"/>
<circle cx="445.5" cy="265.5" r="0.58"/>
<circle cx="447.5" cy="265.5" r="0.6" fill="#f3c060"/>
<circle cx="449.5" cy="265.5" r="0.58"/>
<circle cx="428.5" cy="267.5" r="0.58"/>
<circle cx="430.5" cy="267.5" r="0.58"/>
<circle cx="432.5" cy="267.5" r="0.6" fill="#f3c060"/>
<circle cx="434.5" cy="267.5" r="0.58"/>
<circle cx="436.5" cy="267.5" r="0.58"/>
<circle cx="438.5" cy="267.5" r="0.58"/>
<circle cx="440.5" cy="267.5" r="0.58"/>
<circle cx="442.5" cy="267.5" r="0.58"/>
<circle cx="444.5" cy="267.5" r="0.58"/>
<circle cx="446.5" cy="267.5" r="0.58"/>
<circle cx="448.5" cy="267.5" r="0.58"/>
<circle cx="450.5" cy="267.5" r="0.58"/>
</g>
<rect x="456.45" y="253.40" width="27.50" height="16.00" fill="#000" opacity="0.15"/>
<rect x="456.15" y="253.00" width="27.30" height="15.90" fill="#b8c0b5"/>
<rect x="456.15" y="253.00" width="27.30" height="1.90" fill="#909090"/>
<rect x="487.60" y="253.40" width="27.50" height="16.00" fill="#000" opacity="0.15"/>
<rect x="487.30" y="253.00" width="27.30" height="15.90" fill="#d9bde5"/>
<rect x="487.30" y="253.00" width="27.30" height="1.90" fill="#e070a8"/>
<g fill="#f29cc0" opacity="0.55">
<circle cx="488.5" cy="256.5" r="0.58"/>
<circle cx="493.5" cy="256.5" r="0.58"/>
<circle cx="499.5" cy="256.5" r="0.58"/>
<circle cx="501.5" cy="256.5" r="0.58"/>
<circle cx="504.5" cy="256.5" r="0.58"/>
<circle cx="507.5" cy="256.5" r="0.58"/>
<circle cx="509.5" cy="256.5" r="0.58"/>
<circle cx="512.5" cy="256.5" r="0.58"/>
<circle cx="490.5" cy="258.5" r="0.58"/>
<circle cx="492.5" cy="258.5" r="0.58"/>
<circle cx="495.5" cy="258.5" r="0.58"/>
<circle cx="500.5" cy="258.5" r="0.58"/>
<circle cx="502.5" cy="258.5" r="0.58"/>
<circle cx="508.5" cy="258.5" r="0.58"/>
<circle cx="510.5" cy="258.5" r="0.58"/>
<circle cx="513.5" cy="258.5" r="0.58"/>
<circle cx="488.5" cy="261.5" r="0.58"/>
<circle cx="491.5" cy="261.5" r="0.58"/>
<circle cx="496.5" cy="261.5" r="0.58"/>
<circle cx="499.5" cy="260.5" r="0.58"/>
<circle cx="504.5" cy="261.5" r="0.58"/>
<circle cx="507.5" cy="261.5" r="0.58"/>
<circle cx="509.5" cy="261.5" r="0.58"/>
<circle cx="512.5" cy="261.5" r="0.58"/>
<circle cx="492.5" cy="263.5" r="0.58"/>
<circle cx="495.5" cy="263.5" r="0.58"/>
<circle cx="497.5" cy="263.5" r="0.58"/>
<circle cx="500.5" cy="263.5" r="0.58"/>
<circle cx="503.5" cy="263.5" r="0.58"/>
<circle cx="505.5" cy="263.5" r="0.58"/>
<circle cx="508.5" cy="263.5" r="0.58"/>
<circle cx="510.5" cy="263.5" r="0.58"/>
<circle cx="513.5" cy="263.5" r="0.58"/>
<circle cx="491.5" cy="266.5" r="0.58"/>
<circle cx="493.5" cy="265.5" r="0.58"/>
<circle cx="496.5" cy="266.5" r="0.58"/>
<circle cx="499.5" cy="265.5" r="0.58"/>
<circle cx="506.5" cy="266.5" r="0.58"/>
<circle cx="512.5" cy="265.5" r="0.58"/>
</g>
<rect x="518.75" y="253.40" width="27.50" height="16.00" fill="#000" opacity="0.15"/>
<rect x="518.45" y="253.00" width="27.30" height="15.90" fill="#f9c9be"/>
<rect x="518.45" y="253.00" width="27.30" height="1.90" fill="#d9a580"/>
<path d="M545.45 255.00 V268.90" stroke="#e58cc4" stroke-width="0.6" stroke-dasharray="1 1"/>
<rect x="549.90" y="253.40" width="27.50" height="16.00" fill="#000" opacity="0.15"/>
<rect x="549.60" y="253.00" width="27.30" height="15.90" fill="#f8f5cc"/>
<rect x="549.60" y="253.00" width="27.30" height="1.90" fill="#f3e7a0"/>
<path d="M550.20 253.80 H576.90" stroke="#e6c458" stroke-width="0.8" stroke-dasharray="1.1 1"/>
<rect x="197.85" y="271.00" width="23.75" height="10.80" fill="#632bb1"/>
<rect x="224.00" y="271.00" width="11.80" height="10.80" fill="#f9c61a"/>
<text x="209.70" y="276.10" font-size="2.5" fill="#fff" text-anchor="middle" fill-opacity="0.78" textLength="17" lengthAdjust="spacingAndGlyphs">13:00 - 13:15</text>
<text x="209.70" y="278.60" font-size="2.2" fill="#fff" text-anchor="middle" fill-opacity="0.78">News</text>
<text x="229.90" y="277.30" font-size="2.4" fill="#fff" text-anchor="middle" fill-opacity="0.78">15 m</text>
<rect x="238.10" y="271.00" width="338.90" height="10.80" fill="#d8005f"/>
<text x="407.50" y="277.34" font-size="2.6" fill="#fff" text-anchor="middle" fill-opacity="0.8" textLength="18" lengthAdjust="spacingAndGlyphs">Evening news</text>
<rect x="197.85" y="284.00" width="23.75" height="21.50" fill="#632bb1"/>
<rect x="224.00" y="284.00" width="11.80" height="21.50" fill="#f9c61a"/>
<text x="209.70" y="294.45" font-size="2.5" fill="#fff" text-anchor="middle" fill-opacity="0.78" textLength="21" lengthAdjust="spacingAndGlyphs">13:15 - 14:00</text>
<text x="209.70" y="296.95" font-size="2.2" fill="#fff" text-anchor="middle" fill-opacity="0.78">Lunch</text>
<text x="229.90" y="295.65" font-size="2.4" fill="#fff" text-anchor="middle" fill-opacity="0.78">45 m</text>
<rect x="238.10" y="284.00" width="338.90" height="21.50" fill="#414bb2"/>
<text x="407.50" y="295.69" font-size="2.6" fill="#fff" text-anchor="middle" fill-opacity="0.8" textLength="19" lengthAdjust="spacingAndGlyphs">Lunch break</text>
<rect x="197.85" y="308.00" width="23.75" height="4.80" fill="#632bb1"/>
<rect x="224.00" y="308.00" width="11.80" height="4.80" fill="#f9c61a"/>
<text x="209.70" y="311.12" font-size="2.0" fill="#fff" text-anchor="middle" fill-opacity="0.78" textLength="17" lengthAdjust="spacingAndGlyphs">14:00 - 14:05</text>
<rect x="238.10" y="308.00" width="338.90" height="4.80" fill="#0fa583"/>
<text x="407.50" y="311.16" font-size="2.1" fill="#fff" text-anchor="middle" fill-opacity="0.8" textLength="29.5" lengthAdjust="spacingAndGlyphs">Reconvene and housekeeping</text>
</g>
<g id="seg2">
<rect x="183.50" y="338.00" width="11.50" height="149.50" fill="#0fa583"/>
<text x="189.25" y="412.15" font-size="2.0" fill="#fff" text-anchor="middle" fill-opacity="0.8" textLength="7.4" lengthAdjust="spacingAndGlyphs">Segment</text>
<text x="189.25" y="414.75" font-size="2.0" fill="#fff" text-anchor="middle" fill-opacity="0.8" textLength="6" lengthAdjust="spacingAndGlyphs">Day 2</text>
<rect x="197.85" y="338.10" width="23.75" height="10.70" fill="#632bb1"/>
<rect x="224.00" y="338.10" width="11.80" height="10.70" fill="#f9c61a"/>
<text x="209.70" y="344.35" font-size="2.5" fill="#fff" text-anchor="middle" fill-opacity="0.78" textLength="19" lengthAdjust="spacingAndGlyphs">14:05 - 14:20</text>
<text x="229.90" y="344.35" font-size="2.4" fill="#fff" text-anchor="middle" fill-opacity="0.78">15 m</text>
<rect x="238.10" y="338.10" width="338.90" height="10.70" fill="#0fa583"/>
<text x="407.50" y="344.39" font-size="2.6" fill="#fff" text-anchor="middle" fill-opacity="0.8" textLength="19" lengthAdjust="spacingAndGlyphs">Welcome back</text>
<rect x="197.85" y="350.20" width="23.75" height="5.20" fill="#632bb1"/>
<rect x="224.00" y="350.20" width="11.80" height="5.20" fill="#f9c61a"/>
<text x="209.70" y="353.52" font-size="2.0" fill="#fff" text-anchor="middle" fill-opacity="0.78" textLength="15" lengthAdjust="spacingAndGlyphs">14:20 - 14:25</text>
<rect x="238.10" y="350.20" width="338.90" height="5.20" fill="#2d9bf0"/>
<text x="407.50" y="353.77" font-size="2.7" fill="#fff" text-anchor="middle" fill-opacity="0.95" textLength="26" lengthAdjust="spacingAndGlyphs">Housekeeping - Miro tips</text>
<rect x="197.85" y="357.70" width="23.75" height="16.00" fill="#632bb1"/>
<rect x="224.00" y="357.70" width="11.80" height="16.00" fill="#f9c61a"/>
<text x="209.70" y="366.60" font-size="2.5" fill="#fff" text-anchor="middle" fill-opacity="0.78" textLength="18.6" lengthAdjust="spacingAndGlyphs">14:25 - 14:55</text>
<text x="229.90" y="366.60" font-size="2.4" fill="#fff" text-anchor="middle" fill-opacity="0.78">30 m</text>
<rect x="238.10" y="357.70" width="338.90" height="16.00" fill="#ef4523"/>
<text x="407.50" y="366.64" font-size="2.6" fill="#fff" text-anchor="middle" fill-opacity="0.8" textLength="21" lengthAdjust="spacingAndGlyphs">Marketplace of ideas</text>
<rect x="197.85" y="375.80" width="23.75" height="15.90" fill="#632bb1"/>
<rect x="224.00" y="375.80" width="11.80" height="15.90" fill="#f9c61a"/>
<text x="209.70" y="384.65" font-size="2.5" fill="#fff" text-anchor="middle" fill-opacity="0.78" textLength="20" lengthAdjust="spacingAndGlyphs">14:55 - 15:35</text>
<text x="229.90" y="384.65" font-size="2.4" fill="#fff" text-anchor="middle" fill-opacity="0.78">40 m</text>
<rect x="238.40" y="376.20" width="27.50" height="16.00" fill="#000" opacity="0.15"/>
<rect x="238.10" y="375.80" width="27.30" height="15.90" fill="#f4b4d3"/>
<rect x="238.10" y="375.80" width="27.30" height="1.90" fill="#e072a8"/>
<rect x="269.55" y="376.20" width="27.50" height="16.00" fill="#000" opacity="0.15"/>
<rect x="269.25" y="375.80" width="27.30" height="15.90" fill="#fcedb0"/>
<rect x="269.25" y="375.80" width="27.30" height="1.90" fill="#ecd84b"/>
<rect x="300.70" y="376.20" width="27.50" height="16.00" fill="#000" opacity="0.15"/>
<rect x="300.40" y="375.80" width="27.30" height="15.90" fill="#dff0c8"/>
<rect x="300.40" y="375.80" width="27.30" height="1.90" fill="#ddd6a8"/>
<rect x="331.85" y="376.20" width="27.50" height="16.00" fill="#000" opacity="0.15"/>
<rect x="331.55" y="375.80" width="27.30" height="15.90" fill="#d8bde8"/>
<rect x="331.55" y="375.80" width="27.30" height="1.90" fill="#8a85cc"/>
<g fill="#98f0ec" opacity="0.75">
<circle cx="335.50" cy="383.50" r="0.62"/>
<circle cx="339.50" cy="382.50" r="0.62"/>
<circle cx="344.50" cy="382.50" r="0.62"/>
<circle cx="349.50" cy="382.50" r="0.62"/>
<circle cx="354.50" cy="382.50" r="0.62"/>
<circle cx="341.50" cy="384.50" r="0.62"/>
<circle cx="346.50" cy="384.50" r="0.62"/>
<circle cx="351.50" cy="384.50" r="0.62"/>
<circle cx="356.50" cy="385.50" r="0.62"/>
<circle cx="338.50" cy="386.50" r="0.62"/>
<circle cx="343.50" cy="387.50" r="0.62"/>
<circle cx="348.50" cy="387.50" r="0.62"/>
<circle cx="353.50" cy="387.50" r="0.62"/>
<circle cx="335.50" cy="388.50" r="0.62"/>
<circle cx="339.50" cy="389.50" r="0.62"/>
<circle cx="346.50" cy="389.50" r="0.62"/>
<circle cx="351.50" cy="389.50" r="0.62"/>
</g>
<rect x="363.00" y="376.20" width="27.50" height="16.00" fill="#000" opacity="0.15"/>
<rect x="362.70" y="375.80" width="27.30" height="15.90" fill="#b5e2de"/>
<rect x="362.70" y="375.80" width="27.30" height="1.90" fill="#6fc3ac"/>
<path d="M363.00 377.05 H390.00" stroke="#82c9ec" stroke-width="1.1" stroke-dasharray="3 1"/>
<path d="M363.00 391.25 H390.00" stroke="#dfc0b6" stroke-width="0.8" stroke-dasharray="0.9 1.1" opacity="0.6"/>
<rect x="394.15" y="376.20" width="27.50" height="16.00" fill="#000" opacity="0.15"/>
<rect x="393.85" y="375.80" width="27.30" height="15.90" fill="#e0dab0"/>
<rect x="393.85" y="375.80" width="27.30" height="1.90" fill="#e0a080"/>
<path d="M393.85 391.30 H421.15" stroke="#a9aba0" stroke-width="0.8" stroke-dasharray="3 1" opacity="0.4"/>
<g fill="#f7b4c6" opacity="0.5">
<circle cx="398.50" cy="384.50" r="0.65"/>
<circle cx="402.50" cy="384.50" r="0.65"/>
<circle cx="406.50" cy="384.50" r="0.65"/>
<circle cx="409.50" cy="383.50" r="0.65"/>
<circle cx="414.50" cy="385.50" r="0.65"/>
</g>
<rect x="425.30" y="376.20" width="27.50" height="16.00" fill="#000" opacity="0.15"/>
<rect x="425.00" y="375.80" width="27.30" height="15.90" fill="#fcf3c0"/>
<rect x="425.00" y="375.80" width="27.30" height="1.00" fill="#eedc9e"/>
<g fill="#c2e6b6" opacity="0.55">
<circle cx="428.5" cy="377.5" r="0.58"/>
<circle cx="430.5" cy="377.5" r="0.58"/>
<circle cx="432.5" cy="377.5" r="0.58"/>
<circle cx="434.5" cy="377.5" r="0.58"/>
<circle cx="436.5" cy="377.5" r="0.58"/>
<circle cx="438.5" cy="377.5" r="0.58"/>
<circle cx="440.5" cy="377.5" r="0.58"/>
<circle cx="442.5" cy="377.5" r="0.58"/>
<circle cx="444.5" cy="377.5" r="0.58"/>
<circle cx="446.5" cy="377.5" r="0.58"/>
<circle cx="448.5" cy="377.5" r="0.58"/>
<circle cx="450.5" cy="377.5" r="0.58"/>
<circle cx="428.5" cy="379.5" r="0.58"/>
<circle cx="430.5" cy="379.5" r="0.58"/>
<circle cx="432.5" cy="379.5" r="0.58"/>
<circle cx="434.5" cy="379.5" r="0.58"/>
<circle cx="436.5" cy="379.5" r="0.58"/>
<circle cx="438.5" cy="379.5" r="0.58"/>
<circle cx="440.5" cy="379.5" r="0.6" fill="#f3c060"/>
<circle cx="442.5" cy="379.5" r="0.58"/>
<circle cx="444.5" cy="379.5" r="0.58"/>
<circle cx="446.5" cy="379.5" r="0.58"/>
<circle cx="448.5" cy="379.5" r="0.58"/>
<circle cx="450.5" cy="379.5" r="0.58"/>
<circle cx="428.5" cy="381.5" r="0.58"/>
<circle cx="430.5" cy="381.5" r="0.58"/>
<circle cx="432.5" cy="381.5" r="0.58"/>
<circle cx="434.5" cy="381.5" r="0.58"/>
<circle cx="436.5" cy="381.5" r="0.58"/>
<circle cx="438.5" cy="381.5" r="0.58"/>
<circle cx="440.5" cy="381.5" r="0.58"/>
<circle cx="442.5" cy="381.5" r="0.58"/>
<circle cx="444.5" cy="381.5" r="0.58"/>
<circle cx="446.5" cy="381.5" r="0.58"/>
<circle cx="448.5" cy="381.5" r="0.58"/>
<circle cx="450.5" cy="381.5" r="0.58"/>
<circle cx="429.5" cy="383.5" r="0.58"/>
<circle cx="431.5" cy="383.5" r="0.58"/>
<circle cx="433.5" cy="383.5" r="0.58"/>
<circle cx="435.5" cy="383.5" r="0.58"/>
<circle cx="437.5" cy="383.5" r="0.58"/>
<circle cx="439.5" cy="383.5" r="0.58"/>
<circle cx="441.5" cy="383.5" r="0.58"/>
<circle cx="443.5" cy="383.5" r="0.58"/>
<circle cx="445.5" cy="383.5" r="0.58"/>
<circle cx="447.5" cy="383.5" r="0.58"/>
<circle cx="449.5" cy="383.5" r="0.58"/>
<circle cx="428.5" cy="385.5" r="0.58"/>
<circle cx="430.5" cy="385.5" r="0.58"/>
<circle cx="432.5" cy="385.5" r="0.58"/>
<circle cx="434.5" cy="385.5" r="0.58"/>
<circle cx="436.5" cy="385.5" r="0.58"/>
<circle cx="438.5" cy="385.5" r="0.58"/>
<circle cx="440.5" cy="385.5" r="0.58"/>
<circle cx="442.5" cy="385.5" r="0.58"/>
<circle cx="444.5" cy="385.5" r="0.6" fill="#f3c060"/>
<circle cx="446.5" cy="385.5" r="0.58"/>
<circle cx="448.5" cy="385.5" r="0.58"/>
<circle cx="450.5" cy="385.5" r="0.58"/>
<circle cx="429.5" cy="387.5" r="0.58"/>
<circle cx="431.5" cy="387.5" r="0.6" fill="#f3c060"/>
<circle cx="433.5" cy="387.5" r="0.58"/>
<circle cx="435.5" cy="387.5" r="0.58"/>
<circle cx="437.5" cy="387.5" r="0.58"/>
<circle cx="439.5" cy="387.5" r="0.58"/>
<circle cx="441.5" cy="387.5" r="0.58"/>
<circle cx="443.5" cy="387.5" r="0.58"/>
<circle cx="445.5" cy="387.5" r="0.58"/>
<circle cx="447.5" cy="387.5" r="0.58"/>
<circle cx="449.5" cy="387.5" r="0.58"/>
<circle cx="428.5" cy="389.5" r="0.58"/>
<circle cx="430.5" cy="389.5" r="0.58"/>
<circle cx="432.5" cy="389.5" r="0.58"/>
<circle cx="434.5" cy="389.5" r="0.58"/>
<circle cx="436.5" cy="389.5" r="0.58"/>
<circle cx="438.5" cy="389.5" r="0.58"/>
<circle cx="440.5" cy="389.5" r="0.58"/>
<circle cx="442.5" cy="389.5" r="0.58"/>
<circle cx="444.5" cy="389.5" r="0.58"/>
<circle cx="446.5" cy="389.5" r="0.58"/>
<circle cx="448.5" cy="389.5" r="0.58"/>
<circle cx="450.5" cy="389.5" r="0.58"/>
</g>
<rect x="456.45" y="376.20" width="27.50" height="16.00" fill="#000" opacity="0.15"/>
<rect x="456.15" y="375.80" width="27.30" height="15.90" fill="#b8c0b5"/>
<rect x="456.15" y="375.80" width="27.30" height="1.90" fill="#909090"/>
<rect x="487.60" y="376.20" width="27.50" height="16.00" fill="#000" opacity="0.15"/>
<rect x="487.30" y="375.80" width="27.30" height="15.90" fill="#d9bde5"/>
<rect x="487.30" y="375.80" width="27.30" height="1.90" fill="#e070a8"/>
<g fill="#f29cc0" opacity="0.55">
<circle cx="488.5" cy="379.5" r="0.58"/>
<circle cx="491.5" cy="378.5" r="0.58"/>
<circle cx="494.5" cy="379.5" r="0.58"/>
<circle cx="499.5" cy="378.5" r="0.58"/>
<circle cx="501.5" cy="378.5" r="0.58"/>
<circle cx="504.5" cy="378.5" r="0.58"/>
<circle cx="506.5" cy="379.5" r="0.58"/>
<circle cx="509.5" cy="378.5" r="0.58"/>
<circle cx="512.5" cy="379.5" r="0.58"/>
<circle cx="490.5" cy="381.5" r="0.58"/>
<circle cx="492.5" cy="381.5" r="0.58"/>
<circle cx="495.5" cy="381.5" r="0.58"/>
<circle cx="497.5" cy="381.5" r="0.58"/>
<circle cx="500.5" cy="381.5" r="0.58"/>
<circle cx="502.5" cy="381.5" r="0.58"/>
<circle cx="505.5" cy="381.5" r="0.58"/>
<circle cx="508.5" cy="381.5" r="0.58"/>
<circle cx="510.5" cy="381.5" r="0.58"/>
<circle cx="513.5" cy="381.5" r="0.58"/>
<circle cx="488.5" cy="383.5" r="0.58"/>
<circle cx="491.5" cy="383.5" r="0.58"/>
<circle cx="494.5" cy="384.5" r="0.58"/>
<circle cx="496.5" cy="384.5" r="0.58"/>
<circle cx="499.5" cy="383.5" r="0.58"/>
<circle cx="502.5" cy="383.5" r="0.58"/>
<circle cx="504.5" cy="383.5" r="0.58"/>
<circle cx="509.5" cy="384.5" r="0.58"/>
<circle cx="511.5" cy="383.5" r="0.58"/>
<circle cx="489.5" cy="386.5" r="0.58"/>
<circle cx="495.5" cy="386.5" r="0.58"/>
<circle cx="497.5" cy="386.5" r="0.58"/>
<circle cx="500.5" cy="386.5" r="0.58"/>
<circle cx="502.5" cy="386.5" r="0.58"/>
<circle cx="505.5" cy="386.5" r="0.58"/>
<circle cx="508.5" cy="386.5" r="0.58"/>
<circle cx="510.5" cy="386.5" r="0.58"/>
<circle cx="513.5" cy="386.5" r="0.58"/>
<circle cx="488.5" cy="389.5" r="0.58"/>
<circle cx="491.5" cy="388.5" r="0.58"/>
<circle cx="499.5" cy="388.5" r="0.58"/>
<circle cx="504.5" cy="388.5" r="0.58"/>
<circle cx="506.5" cy="388.5" r="0.58"/>
<circle cx="509.5" cy="388.5" r="0.58"/>
<circle cx="512.5" cy="388.5" r="0.58"/>
</g>
<rect x="518.75" y="376.20" width="27.50" height="16.00" fill="#000" opacity="0.15"/>
<rect x="518.45" y="375.80" width="27.30" height="15.90" fill="#f9c9be"/>
<rect x="518.45" y="375.80" width="27.30" height="1.90" fill="#d9a580"/>
<path d="M545.45 377.80 V391.70" stroke="#e58cc4" stroke-width="0.6" stroke-dasharray="1 1"/>
<rect x="549.90" y="376.20" width="27.50" height="16.00" fill="#000" opacity="0.15"/>
<rect x="549.60" y="375.80" width="27.30" height="15.90" fill="#f8f5cc"/>
<rect x="549.60" y="375.80" width="27.30" height="1.90" fill="#f3e7a0"/>
<path d="M550.20 376.60 H576.90" stroke="#e6c458" stroke-width="0.8" stroke-dasharray="1.1 1"/>
<rect x="197.85" y="394.10" width="23.75" height="5.30" fill="#632bb1"/>
<rect x="224.00" y="394.10" width="11.80" height="5.30" fill="#f9c61a"/>
<text x="209.70" y="397.47" font-size="2.0" fill="#fff" text-anchor="middle" fill-opacity="0.78" textLength="15" lengthAdjust="spacingAndGlyphs">15:35 - 15:40</text>
<rect x="238.10" y="394.10" width="338.90" height="5.30" fill="#0fa583"/>
<text x="407.50" y="397.51" font-size="2.1" fill="#fff" text-anchor="middle" fill-opacity="0.8" textLength="8" lengthAdjust="spacingAndGlyphs">Break</text>
<rect x="197.85" y="401.80" width="23.75" height="16.00" fill="#632bb1"/>
<rect x="224.00" y="401.80" width="11.80" height="16.00" fill="#f9c61a"/>
<text x="209.70" y="410.70" font-size="2.5" fill="#fff" text-anchor="middle" fill-opacity="0.78" textLength="21" lengthAdjust="spacingAndGlyphs">15:40 - 16:20</text>
<text x="229.90" y="410.70" font-size="2.4" fill="#fff" text-anchor="middle" fill-opacity="0.78">40 m</text>
<rect x="238.40" y="402.20" width="27.50" height="16.10" fill="#000" opacity="0.15"/>
<rect x="238.10" y="401.80" width="27.30" height="16.00" fill="#f4b4d3"/>
<rect x="238.10" y="401.80" width="27.30" height="1.90" fill="#e072a8"/>
<rect x="269.55" y="402.20" width="27.50" height="16.10" fill="#000" opacity="0.15"/>
<rect x="269.25" y="401.80" width="27.30" height="16.00" fill="#fcedb0"/>
<rect x="269.25" y="401.80" width="27.30" height="1.90" fill="#ecd84b"/>
<rect x="300.70" y="402.20" width="27.50" height="16.10" fill="#000" opacity="0.15"/>
<rect x="300.40" y="401.80" width="27.30" height="16.00" fill="#dff0c8"/>
<rect x="300.40" y="401.80" width="27.30" height="1.90" fill="#ddd6a8"/>
<rect x="331.85" y="402.20" width="27.50" height="16.10" fill="#000" opacity="0.15"/>
<rect x="331.55" y="401.80" width="27.30" height="16.00" fill="#d8bde8"/>
<rect x="331.55" y="401.80" width="27.30" height="1.90" fill="#8a85cc"/>
<g fill="#98f0ec" opacity="0.75">
<circle cx="335.50" cy="409.50" r="0.62"/>
<circle cx="339.50" cy="408.50" r="0.62"/>
<circle cx="344.50" cy="408.50" r="0.62"/>
<circle cx="349.50" cy="408.50" r="0.62"/>
<circle cx="354.50" cy="408.50" r="0.62"/>
<circle cx="341.50" cy="410.50" r="0.62"/>
<circle cx="346.50" cy="410.50" r="0.62"/>
<circle cx="351.50" cy="410.50" r="0.62"/>
<circle cx="356.50" cy="411.50" r="0.62"/>
<circle cx="338.50" cy="412.50" r="0.62"/>
<circle cx="343.50" cy="413.50" r="0.62"/>
<circle cx="348.50" cy="413.50" r="0.62"/>
<circle cx="353.50" cy="413.50" r="0.62"/>
<circle cx="335.50" cy="414.50" r="0.62"/>
<circle cx="339.50" cy="415.50" r="0.62"/>
<circle cx="346.50" cy="415.50" r="0.62"/>
<circle cx="351.50" cy="415.50" r="0.62"/>
</g>
<rect x="363.00" y="402.20" width="27.50" height="16.10" fill="#000" opacity="0.15"/>
<rect x="362.70" y="401.80" width="27.30" height="16.00" fill="#b5e2de"/>
<rect x="362.70" y="401.80" width="27.30" height="1.90" fill="#6fc3ac"/>
<path d="M363.00 403.05 H390.00" stroke="#82c9ec" stroke-width="1.1" stroke-dasharray="3 1"/>
<path d="M363.00 417.35 H390.00" stroke="#dfc0b6" stroke-width="0.8" stroke-dasharray="0.9 1.1" opacity="0.6"/>
<rect x="394.15" y="402.20" width="27.50" height="16.10" fill="#000" opacity="0.15"/>
<rect x="393.85" y="401.80" width="27.30" height="16.00" fill="#e0dab0"/>
<rect x="393.85" y="401.80" width="27.30" height="1.90" fill="#e0a080"/>
<path d="M393.85 417.40 H421.15" stroke="#a9aba0" stroke-width="0.8" stroke-dasharray="3 1" opacity="0.4"/>
<g fill="#f7b4c6" opacity="0.5">
<circle cx="397.50" cy="410.50" r="0.65"/>
<circle cx="402.50" cy="410.50" r="0.65"/>
<circle cx="406.50" cy="410.50" r="0.65"/>
<circle cx="410.50" cy="410.50" r="0.65"/>
<circle cx="414.50" cy="410.50" r="0.65"/>
</g>
<rect x="425.30" y="402.20" width="27.50" height="16.10" fill="#000" opacity="0.15"/>
<rect x="425.00" y="401.80" width="27.30" height="16.00" fill="#fcf3c0"/>
<rect x="425.00" y="401.80" width="27.30" height="1.00" fill="#eedc9e"/>
<g fill="#c2e6b6" opacity="0.55">
<circle cx="428.5" cy="403.5" r="0.6" fill="#f3c060"/>
<circle cx="430.5" cy="403.5" r="0.58"/>
<circle cx="432.5" cy="403.5" r="0.58"/>
<circle cx="434.5" cy="403.5" r="0.58"/>
<circle cx="436.5" cy="403.5" r="0.58"/>
<circle cx="438.5" cy="403.5" r="0.58"/>
<circle cx="440.5" cy="403.5" r="0.58"/>
<circle cx="442.5" cy="403.5" r="0.58"/>
<circle cx="444.5" cy="403.5" r="0.58"/>
<circle cx="446.5" cy="403.5" r="0.58"/>
<circle cx="448.5" cy="403.5" r="0.58"/>
<circle cx="450.5" cy="403.5" r="0.58"/>
<circle cx="428.5" cy="405.5" r="0.58"/>
<circle cx="430.5" cy="405.5" r="0.58"/>
<circle cx="432.5" cy="405.5" r="0.58"/>
<circle cx="434.5" cy="405.5" r="0.58"/>
<circle cx="436.5" cy="405.5" r="0.58"/>
<circle cx="438.5" cy="405.5" r="0.58"/>
<circle cx="440.5" cy="405.5" r="0.58"/>
<circle cx="442.5" cy="405.5" r="0.58"/>
<circle cx="444.5" cy="405.5" r="0.58"/>
<circle cx="446.5" cy="405.5" r="0.58"/>
<circle cx="448.5" cy="405.5" r="0.58"/>
<circle cx="450.5" cy="405.5" r="0.58"/>
<circle cx="428.5" cy="407.5" r="0.58"/>
<circle cx="430.5" cy="407.5" r="0.58"/>
<circle cx="432.5" cy="407.5" r="0.58"/>
<circle cx="434.5" cy="407.5" r="0.58"/>
<circle cx="436.5" cy="407.5" r="0.58"/>
<circle cx="438.5" cy="407.5" r="0.58"/>
<circle cx="440.5" cy="407.5" r="0.58"/>
<circle cx="442.5" cy="407.5" r="0.58"/>
<circle cx="444.5" cy="407.5" r="0.58"/>
<circle cx="446.5" cy="407.5" r="0.6" fill="#f3c060"/>
<circle cx="448.5" cy="407.5" r="0.58"/>
<circle cx="450.5" cy="407.5" r="0.58"/>
<circle cx="429.5" cy="409.5" r="0.58"/>
<circle cx="431.5" cy="409.5" r="0.58"/>
<circle cx="433.5" cy="409.5" r="0.6" fill="#f3c060"/>
<circle cx="435.5" cy="409.5" r="0.58"/>
<circle cx="437.5" cy="409.5" r="0.58"/>
<circle cx="439.5" cy="409.5" r="0.58"/>
<circle cx="441.5" cy="409.5" r="0.58"/>
<circle cx="443.5" cy="409.5" r="0.58"/>
<circle cx="445.5" cy="409.5" r="0.58"/>
<circle cx="447.5" cy="409.5" r="0.58"/>
<circle cx="449.5" cy="409.5" r="0.58"/>
<circle cx="428.5" cy="411.5" r="0.58"/>
<circle cx="430.5" cy="411.5" r="0.58"/>
<circle cx="432.5" cy="411.5" r="0.58"/>
<circle cx="434.5" cy="411.5" r="0.58"/>
<circle cx="436.5" cy="411.5" r="0.58"/>
<circle cx="438.5" cy="411.5" r="0.58"/>
<circle cx="440.5" cy="411.5" r="0.58"/>
<circle cx="442.5" cy="411.5" r="0.58"/>
<circle cx="444.5" cy="411.5" r="0.58"/>
<circle cx="446.5" cy="411.5" r="0.58"/>
<circle cx="448.5" cy="411.5" r="0.58"/>
<circle cx="450.5" cy="411.5" r="0.58"/>
<circle cx="429.5" cy="413.5" r="0.58"/>
<circle cx="431.5" cy="413.5" r="0.58"/>
<circle cx="433.5" cy="413.5" r="0.58"/>
<circle cx="435.5" cy="413.5" r="0.58"/>
<circle cx="437.5" cy="413.5" r="0.58"/>
<circle cx="439.5" cy="413.5" r="0.58"/>
<circle cx="441.5" cy="413.5" r="0.58"/>
<circle cx="443.5" cy="413.5" r="0.58"/>
<circle cx="445.5" cy="413.5" r="0.58"/>
<circle cx="447.5" cy="413.5" r="0.58"/>
<circle cx="449.5" cy="413.5" r="0.58"/>
<circle cx="428.5" cy="415.5" r="0.58"/>
<circle cx="430.5" cy="415.5" r="0.58"/>
<circle cx="432.5" cy="415.5" r="0.58"/>
<circle cx="434.5" cy="415.5" r="0.58"/>
<circle cx="436.5" cy="415.5" r="0.6" fill="#f3c060"/>
<circle cx="438.5" cy="415.5" r="0.58"/>
<circle cx="440.5" cy="415.5" r="0.58"/>
<circle cx="442.5" cy="415.5" r="0.58"/>
<circle cx="444.5" cy="415.5" r="0.58"/>
<circle cx="446.5" cy="415.5" r="0.58"/>
<circle cx="448.5" cy="415.5" r="0.58"/>
<circle cx="450.5" cy="415.5" r="0.58"/>
</g>
<rect x="456.45" y="402.20" width="27.50" height="16.10" fill="#000" opacity="0.15"/>
<rect x="456.15" y="401.80" width="27.30" height="16.00" fill="#b8c0b5"/>
<rect x="456.15" y="401.80" width="27.30" height="1.90" fill="#909090"/>
<rect x="487.60" y="402.20" width="27.50" height="16.10" fill="#000" opacity="0.15"/>
<rect x="487.30" y="401.80" width="27.30" height="16.00" fill="#d9bde5"/>
<rect x="487.30" y="401.80" width="27.30" height="1.90" fill="#e070a8"/>
<g fill="#f29cc0" opacity="0.55">
<circle cx="488.5" cy="405.5" r="0.58"/>
<circle cx="491.5" cy="404.5" r="0.58"/>
<circle cx="493.5" cy="404.5" r="0.58"/>
<circle cx="496.5" cy="404.5" r="0.58"/>
<circle cx="499.5" cy="405.5" r="0.58"/>
<circle cx="501.5" cy="405.5" r="0.58"/>
<circle cx="504.5" cy="404.5" r="0.58"/>
<circle cx="507.5" cy="404.5" r="0.58"/>
<circle cx="509.5" cy="404.5" r="0.58"/>
<circle cx="512.5" cy="404.5" r="0.58"/>
<circle cx="489.5" cy="407.5" r="0.58"/>
<circle cx="492.5" cy="407.5" r="0.58"/>
<circle cx="495.5" cy="407.5" r="0.58"/>
<circle cx="497.5" cy="407.5" r="0.58"/>
<circle cx="500.5" cy="407.5" r="0.58"/>
<circle cx="503.5" cy="407.5" r="0.58"/>
<circle cx="505.5" cy="407.5" r="0.58"/>
<circle cx="508.5" cy="407.5" r="0.58"/>
<circle cx="511.5" cy="407.5" r="0.58"/>
<circle cx="513.5" cy="407.5" r="0.58"/>
<circle cx="488.5" cy="409.5" r="0.58"/>
<circle cx="491.5" cy="409.5" r="0.58"/>
<circle cx="493.5" cy="410.5" r="0.58"/>
<circle cx="501.5" cy="409.5" r="0.58"/>
<circle cx="504.5" cy="409.5" r="0.58"/>
<circle cx="506.5" cy="409.5" r="0.58"/>
<circle cx="509.5" cy="410.5" r="0.58"/>
<circle cx="512.5" cy="409.5" r="0.58"/>
<circle cx="490.5" cy="412.5" r="0.58"/>
<circle cx="492.5" cy="412.5" r="0.58"/>
<circle cx="495.5" cy="412.5" r="0.58"/>
<circle cx="497.5" cy="412.5" r="0.58"/>
<circle cx="500.5" cy="412.5" r="0.58"/>
<circle cx="503.5" cy="412.5" r="0.58"/>
<circle cx="505.5" cy="412.5" r="0.58"/>
<circle cx="510.5" cy="412.5" r="0.58"/>
<circle cx="513.5" cy="412.5" r="0.58"/>
<circle cx="489.5" cy="414.5" r="0.58"/>
<circle cx="491.5" cy="415.5" r="0.58"/>
<circle cx="493.5" cy="414.5" r="0.58"/>
<circle cx="496.5" cy="415.5" r="0.58"/>
<circle cx="499.5" cy="414.5" r="0.58"/>
<circle cx="501.5" cy="415.5" r="0.58"/>
<circle cx="504.5" cy="415.5" r="0.58"/>
<circle cx="506.5" cy="414.5" r="0.58"/>
<circle cx="509.5" cy="415.5" r="0.58"/>
<circle cx="512.5" cy="415.5" r="0.58"/>
</g>
<rect x="518.75" y="402.20" width="27.50" height="16.10" fill="#000" opacity="0.15"/>
<rect x="518.45" y="401.80" width="27.30" height="16.00" fill="#f9c9be"/>
<rect x="518.45" y="401.80" width="27.30" height="1.90" fill="#d9a580"/>
<path d="M545.45 403.80 V417.80" stroke="#e58cc4" stroke-width="0.6" stroke-dasharray="1 1"/>
<rect x="549.90" y="402.20" width="27.50" height="16.10" fill="#000" opacity="0.15"/>
<rect x="549.60" y="401.80" width="27.30" height="16.00" fill="#f8f5cc"/>
<rect x="549.60" y="401.80" width="27.30" height="1.90" fill="#f3e7a0"/>
<path d="M550.20 402.60 H576.90" stroke="#e6c458" stroke-width="0.8" stroke-dasharray="1.1 1"/>
<rect x="197.85" y="420.00" width="23.75" height="5.10" fill="#632bb1"/>
<rect x="224.00" y="420.00" width="11.80" height="5.10" fill="#f9c61a"/>
<text x="209.70" y="423.27" font-size="2.0" fill="#fff" text-anchor="middle" fill-opacity="0.78" textLength="16" lengthAdjust="spacingAndGlyphs">16:20 - 16:25</text>
<rect x="238.10" y="420.00" width="338.90" height="5.10" fill="#0fa583"/>
<text x="407.50" y="423.31" font-size="2.1" fill="#fff" text-anchor="middle" fill-opacity="0.8" textLength="9" lengthAdjust="spacingAndGlyphs">Break</text>
<rect x="197.85" y="427.20" width="23.75" height="16.30" fill="#632bb1"/>
<rect x="224.00" y="427.20" width="11.80" height="16.30" fill="#f9c61a"/>
<text x="209.70" y="436.25" font-size="2.5" fill="#fff" text-anchor="middle" fill-opacity="0.78" textLength="20" lengthAdjust="spacingAndGlyphs">16:25 - 17:05</text>
<text x="229.90" y="436.25" font-size="2.4" fill="#fff" text-anchor="middle" fill-opacity="0.78">40 m</text>
<rect x="238.40" y="427.60" width="27.50" height="16.40" fill="#000" opacity="0.15"/>
<rect x="238.10" y="427.20" width="27.30" height="16.30" fill="#f4b4d3"/>
<rect x="238.10" y="427.20" width="27.30" height="1.90" fill="#e072a8"/>
<rect x="269.55" y="427.60" width="27.50" height="16.40" fill="#000" opacity="0.15"/>
<rect x="269.25" y="427.20" width="27.30" height="16.30" fill="#fcedb0"/>
<rect x="269.25" y="427.20" width="27.30" height="1.90" fill="#ecd84b"/>
<rect x="300.70" y="427.60" width="27.50" height="16.40" fill="#000" opacity="0.15"/>
<rect x="300.40" y="427.20" width="27.30" height="16.30" fill="#dff0c8"/>
<rect x="300.40" y="427.20" width="27.30" height="1.90" fill="#ddd6a8"/>
<rect x="331.85" y="427.60" width="27.50" height="16.40" fill="#000" opacity="0.15"/>
<rect x="331.55" y="427.20" width="27.30" height="16.30" fill="#d8bde8"/>
<rect x="331.55" y="427.20" width="27.30" height="1.90" fill="#8a85cc"/>
<g fill="#98f0ec" opacity="0.75">
<circle cx="335.50" cy="434.50" r="0.62"/>
<circle cx="339.50" cy="433.50" r="0.62"/>
<circle cx="344.50" cy="433.50" r="0.62"/>
<circle cx="349.50" cy="433.50" r="0.62"/>
<circle cx="354.50" cy="433.50" r="0.62"/>
<circle cx="341.50" cy="435.50" r="0.62"/>
<circle cx="346.50" cy="435.50" r="0.62"/>
<circle cx="351.50" cy="435.50" r="0.62"/>
<circle cx="356.50" cy="436.50" r="0.62"/>
<circle cx="338.50" cy="437.50" r="0.62"/>
<circle cx="343.50" cy="438.50" r="0.62"/>
<circle cx="348.50" cy="438.50" r="0.62"/>
<circle cx="353.50" cy="438.50" r="0.62"/>
<circle cx="335.50" cy="439.50" r="0.62"/>
<circle cx="339.50" cy="440.50" r="0.62"/>
<circle cx="346.50" cy="440.50" r="0.62"/>
<circle cx="351.50" cy="440.50" r="0.62"/>
<circle cx="342.50" cy="442.50" r="0.62"/>
<circle cx="355.50" cy="442.50" r="0.62"/>
</g>
<rect x="363.00" y="427.60" width="27.50" height="16.40" fill="#000" opacity="0.15"/>
<rect x="362.70" y="427.20" width="27.30" height="16.30" fill="#b5e2de"/>
<rect x="362.70" y="427.20" width="27.30" height="1.90" fill="#6fc3ac"/>
<path d="M363.00 428.45 H390.00" stroke="#82c9ec" stroke-width="1.1" stroke-dasharray="3 1"/>
<path d="M363.00 443.05 H390.00" stroke="#dfc0b6" stroke-width="0.8" stroke-dasharray="0.9 1.1" opacity="0.6"/>
<rect x="394.15" y="427.60" width="27.50" height="16.40" fill="#000" opacity="0.15"/>
<rect x="393.85" y="427.20" width="27.30" height="16.30" fill="#e0dab0"/>
<rect x="393.85" y="427.20" width="27.30" height="1.90" fill="#e0a080"/>
<path d="M393.85 443.10 H421.15" stroke="#a9aba0" stroke-width="0.8" stroke-dasharray="3 1" opacity="0.4"/>
<g fill="#f7b4c6" opacity="0.5">
<circle cx="398.50" cy="435.50" r="0.65"/>
<circle cx="402.50" cy="435.50" r="0.65"/>
<circle cx="406.50" cy="436.50" r="0.65"/>
<circle cx="410.50" cy="435.50" r="0.65"/>
<circle cx="414.50" cy="436.50" r="0.65"/>
</g>
<rect x="425.30" y="427.60" width="27.50" height="16.40" fill="#000" opacity="0.15"/>
<rect x="425.00" y="427.20" width="27.30" height="16.30" fill="#fcf3c0"/>
<rect x="425.00" y="427.20" width="27.30" height="1.00" fill="#eedc9e"/>
<g fill="#c2e6b6" opacity="0.55">
<circle cx="428.5" cy="429.5" r="0.58"/>
<circle cx="430.5" cy="429.5" r="0.58"/>
<circle cx="432.5" cy="429.5" r="0.58"/>
<circle cx="434.5" cy="429.5" r="0.58"/>
<circle cx="436.5" cy="429.5" r="0.58"/>
<circle cx="438.5" cy="429.5" r="0.58"/>
<circle cx="440.5" cy="429.5" r="0.58"/>
<circle cx="442.5" cy="429.5" r="0.58"/>
<circle cx="444.5" cy="429.5" r="0.58"/>
<circle cx="446.5" cy="429.5" r="0.58"/>
<circle cx="448.5" cy="429.5" r="0.6" fill="#f3c060"/>
<circle cx="450.5" cy="429.5" r="0.58"/>
<circle cx="428.5" cy="431.5" r="0.58"/>
<circle cx="430.5" cy="431.5" r="0.58"/>
<circle cx="432.5" cy="431.5" r="0.58"/>
<circle cx="434.5" cy="431.5" r="0.6" fill="#f3c060"/>
<circle cx="436.5" cy="431.5" r="0.58"/>
<circle cx="438.5" cy="431.5" r="0.58"/>
<circle cx="440.5" cy="431.5" r="0.58"/>
<circle cx="442.5" cy="431.5" r="0.58"/>
<circle cx="444.5" cy="431.5" r="0.58"/>
<circle cx="446.5" cy="431.5" r="0.58"/>
<circle cx="448.5" cy="431.5" r="0.58"/>
<circle cx="450.5" cy="431.5" r="0.58"/>
<circle cx="428.5" cy="433.5" r="0.58"/>
<circle cx="430.5" cy="433.5" r="0.58"/>
<circle cx="432.5" cy="433.5" r="0.58"/>
<circle cx="434.5" cy="433.5" r="0.58"/>
<circle cx="436.5" cy="433.5" r="0.58"/>
<circle cx="438.5" cy="433.5" r="0.58"/>
<circle cx="440.5" cy="433.5" r="0.58"/>
<circle cx="442.5" cy="433.5" r="0.58"/>
<circle cx="444.5" cy="433.5" r="0.58"/>
<circle cx="446.5" cy="433.5" r="0.58"/>
<circle cx="448.5" cy="433.5" r="0.58"/>
<circle cx="450.5" cy="433.5" r="0.58"/>
<circle cx="429.5" cy="435.5" r="0.58"/>
<circle cx="431.5" cy="435.5" r="0.58"/>
<circle cx="433.5" cy="435.5" r="0.58"/>
<circle cx="435.5" cy="435.5" r="0.58"/>
<circle cx="437.5" cy="435.5" r="0.58"/>
<circle cx="439.5" cy="435.5" r="0.58"/>
<circle cx="441.5" cy="435.5" r="0.58"/>
<circle cx="443.5" cy="435.5" r="0.58"/>
<circle cx="445.5" cy="435.5" r="0.58"/>
<circle cx="447.5" cy="435.5" r="0.58"/>
<circle cx="449.5" cy="435.5" r="0.58"/>
<circle cx="428.5" cy="437.5" r="0.58"/>
<circle cx="430.5" cy="437.5" r="0.58"/>
<circle cx="432.5" cy="437.5" r="0.58"/>
<circle cx="434.5" cy="437.5" r="0.58"/>
<circle cx="436.5" cy="437.5" r="0.58"/>
<circle cx="438.5" cy="437.5" r="0.6" fill="#f3c060"/>
<circle cx="440.5" cy="437.5" r="0.58"/>
<circle cx="442.5" cy="437.5" r="0.58"/>
<circle cx="444.5" cy="437.5" r="0.58"/>
<circle cx="446.5" cy="437.5" r="0.58"/>
<circle cx="448.5" cy="437.5" r="0.58"/>
<circle cx="450.5" cy="437.5" r="0.58"/>
<circle cx="429.5" cy="439.5" r="0.58"/>
<circle cx="431.5" cy="439.5" r="0.58"/>
<circle cx="433.5" cy="439.5" r="0.58"/>
<circle cx="435.5" cy="439.5" r="0.58"/>
<circle cx="437.5" cy="439.5" r="0.58"/>
<circle cx="439.5" cy="439.5" r="0.58"/>
<circle cx="441.5" cy="439.5" r="0.58"/>
<circle cx="443.5" cy="439.5" r="0.58"/>
<circle cx="445.5" cy="439.5" r="0.58"/>
<circle cx="447.5" cy="439.5" r="0.58"/>
<circle cx="449.5" cy="439.5" r="0.58"/>
<circle cx="428.5" cy="441.5" r="0.58"/>
<circle cx="430.5" cy="441.5" r="0.58"/>
<circle cx="432.5" cy="441.5" r="0.58"/>
<circle cx="434.5" cy="441.5" r="0.58"/>
<circle cx="436.5" cy="441.5" r="0.58"/>
<circle cx="438.5" cy="441.5" r="0.58"/>
<circle cx="440.5" cy="441.5" r="0.58"/>
<circle cx="442.5" cy="441.5" r="0.58"/>
<circle cx="444.5" cy="441.5" r="0.58"/>
<circle cx="446.5" cy="441.5" r="0.58"/>
<circle cx="448.5" cy="441.5" r="0.58"/>
<circle cx="450.5" cy="441.5" r="0.58"/>
</g>
<rect x="456.45" y="427.60" width="27.50" height="16.40" fill="#000" opacity="0.15"/>
<rect x="456.15" y="427.20" width="27.30" height="16.30" fill="#b8c0b5"/>
<rect x="456.15" y="427.20" width="27.30" height="1.90" fill="#909090"/>
<rect x="487.60" y="427.60" width="27.50" height="16.40" fill="#000" opacity="0.15"/>
<rect x="487.30" y="427.20" width="27.30" height="16.30" fill="#d9bde5"/>
<rect x="487.30" y="427.20" width="27.30" height="1.90" fill="#e070a8"/>
<g fill="#f29cc0" opacity="0.55">
<circle cx="491.5" cy="430.5" r="0.58"/>
<circle cx="493.5" cy="430.5" r="0.58"/>
<circle cx="496.5" cy="430.5" r="0.58"/>
<circle cx="499.5" cy="430.5" r="0.58"/>
<circle cx="501.5" cy="430.5" r="0.58"/>
<circle cx="507.5" cy="430.5" r="0.58"/>
<circle cx="509.5" cy="430.5" r="0.58"/>
<circle cx="512.5" cy="430.5" r="0.58"/>
<circle cx="489.5" cy="432.5" r="0.58"/>
<circle cx="492.5" cy="433.5" r="0.58"/>
<circle cx="495.5" cy="433.5" r="0.58"/>
<circle cx="500.5" cy="432.5" r="0.58"/>
<circle cx="503.5" cy="432.5" r="0.58"/>
<circle cx="505.5" cy="432.5" r="0.58"/>
<circle cx="508.5" cy="433.5" r="0.58"/>
<circle cx="510.5" cy="432.5" r="0.58"/>
<circle cx="513.5" cy="432.5" r="0.58"/>
<circle cx="488.5" cy="435.5" r="0.58"/>
<circle cx="491.5" cy="435.5" r="0.58"/>
<circle cx="493.5" cy="435.5" r="0.58"/>
<circle cx="499.5" cy="435.5" r="0.58"/>
<circle cx="501.5" cy="435.5" r="0.58"/>
<circle cx="504.5" cy="435.5" r="0.58"/>
<circle cx="507.5" cy="435.5" r="0.58"/>
<circle cx="509.5" cy="435.5" r="0.58"/>
<circle cx="512.5" cy="435.5" r="0.58"/>
<circle cx="490.5" cy="437.5" r="0.58"/>
<circle cx="492.5" cy="437.5" r="0.58"/>
<circle cx="495.5" cy="437.5" r="0.58"/>
<circle cx="497.5" cy="438.5" r="0.58"/>
<circle cx="500.5" cy="437.5" r="0.58"/>
<circle cx="503.5" cy="437.5" r="0.58"/>
<circle cx="505.5" cy="437.5" r="0.58"/>
<circle cx="508.5" cy="437.5" r="0.58"/>
<circle cx="511.5" cy="437.5" r="0.58"/>
<circle cx="513.5" cy="437.5" r="0.58"/>
<circle cx="488.5" cy="440.5" r="0.58"/>
<circle cx="491.5" cy="440.5" r="0.58"/>
<circle cx="494.5" cy="440.5" r="0.58"/>
<circle cx="496.5" cy="440.5" r="0.58"/>
<circle cx="499.5" cy="440.5" r="0.58"/>
<circle cx="501.5" cy="440.5" r="0.58"/>
<circle cx="504.5" cy="440.5" r="0.58"/>
<circle cx="512.5" cy="440.5" r="0.58"/>
</g>
<rect x="518.75" y="427.60" width="27.50" height="16.40" fill="#000" opacity="0.15"/>
<rect x="518.45" y="427.20" width="27.30" height="16.30" fill="#f9c9be"/>
<rect x="518.45" y="427.20" width="27.30" height="1.90" fill="#d9a580"/>
<path d="M545.45 429.20 V443.50" stroke="#e58cc4" stroke-width="0.6" stroke-dasharray="1 1"/>
<rect x="549.90" y="427.60" width="27.50" height="16.40" fill="#000" opacity="0.15"/>
<rect x="549.60" y="427.20" width="27.30" height="16.30" fill="#f8f5cc"/>
<rect x="549.60" y="427.20" width="27.30" height="1.90" fill="#f3e7a0"/>
<path d="M550.20 428.00 H576.90" stroke="#e6c458" stroke-width="0.8" stroke-dasharray="1.1 1"/>
<rect x="197.85" y="445.70" width="23.75" height="10.30" fill="#632bb1"/>
<rect x="224.00" y="445.70" width="11.80" height="10.30" fill="#f9c61a"/>
<text x="209.70" y="451.75" font-size="2.5" fill="#fff" text-anchor="middle" fill-opacity="0.78" textLength="21" lengthAdjust="spacingAndGlyphs">17:05 - 17:20</text>
<text x="229.90" y="451.75" font-size="2.4" fill="#fff" text-anchor="middle" fill-opacity="0.78">15 m</text>
<rect x="238.10" y="445.70" width="338.90" height="10.30" fill="#d8005f"/>
<text x="407.50" y="451.79" font-size="2.6" fill="#fff" text-anchor="middle" fill-opacity="0.8" textLength="18" lengthAdjust="spacingAndGlyphs">Evening news</text>
<rect x="197.85" y="458.40" width="23.75" height="21.60" fill="#632bb1"/>
<rect x="224.00" y="458.40" width="11.80" height="21.60" fill="#f9c61a"/>
<text x="209.70" y="470.10" font-size="2.5" fill="#fff" text-anchor="middle" fill-opacity="0.78" textLength="21" lengthAdjust="spacingAndGlyphs">17:20 - 18:00</text>
<text x="229.90" y="470.10" font-size="2.4" fill="#fff" text-anchor="middle" fill-opacity="0.78">40 m</text>
<rect x="238.10" y="458.40" width="338.90" height="21.60" fill="#414bb2"/>
<text x="407.50" y="470.14" font-size="2.6" fill="#fff" text-anchor="middle" fill-opacity="0.8" textLength="19" lengthAdjust="spacingAndGlyphs">Closing circle</text>
</g>
</svg>
</body></html>
